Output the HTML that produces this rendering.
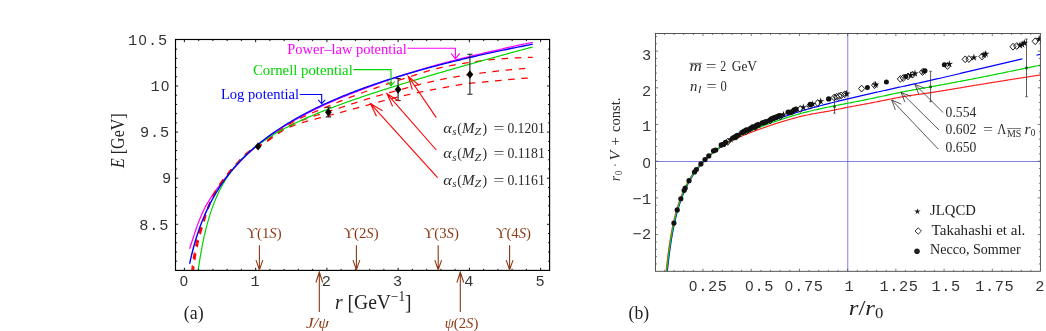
<!DOCTYPE html>
<html><head><meta charset="utf-8"><title>Figure</title>
<style>html,body{margin:0;padding:0;background:#fff;}svg{display:block;}</style></head><body>
<svg width="1046" height="331" viewBox="0 0 1046 331">
<rect width="1046" height="331" fill="#fff"/>
<clipPath id="clipB2"><rect x="655.5" y="33.45" width="385.30000000000007" height="237.85000000000002"/></clipPath>
<g id="plotA">
<clipPath id="clipA"><rect x="175.5" y="39.5" width="374.1" height="230.89999999999998"/></clipPath>
<g clip-path="url(#clipA)" fill="none" stroke-linecap="butt" stroke-linejoin="round">
<path d="M189.60,248.75 L190.75,245.23 L191.89,241.81 L193.04,238.28 L194.19,234.67 L195.34,231.16 L196.48,227.80 L197.63,224.63 L198.78,221.60 L199.93,218.70 L201.07,215.93 L202.22,213.30 L203.37,210.81 L204.52,208.48 L205.66,206.31 L206.81,204.27 L207.96,202.33 L209.11,200.48 L210.25,198.68 L211.40,196.92 L212.55,195.17 L213.70,193.47 L214.84,191.83 L215.99,190.23 L217.14,188.66 L218.29,187.13 L219.43,185.62 L220.58,184.12 L221.73,182.63 L222.88,181.16 L224.02,179.72 L225.17,178.31 L226.32,176.93 L227.47,175.57 L228.61,174.24 L229.76,172.92 L230.91,171.61 L232.06,170.32 L233.20,169.03 L234.35,167.75 L235.50,166.46 L236.65,165.20 L237.79,163.96 L238.94,162.74 L240.09,161.54 L241.24,160.36 L242.38,159.20 L243.53,158.05 L244.68,156.93 L245.83,155.82 L246.97,154.73 L248.12,153.65 L249.27,152.59 L250.42,151.55 L251.56,150.53 L252.71,149.51 L253.86,148.52 L255.01,147.54 L256.15,146.57 L257.30,145.61 L258.45,144.67 L259.60,143.75 L260.74,142.83 L261.89,141.93 L263.04,141.04 L264.19,140.16 L265.33,139.30 L266.48,138.44 L267.63,137.60 L268.78,136.76 L269.92,135.94 L271.07,135.12 L272.22,134.32 L273.37,133.53 L274.51,132.74 L275.66,131.96 L276.81,131.19 L277.96,130.43 L279.10,129.68 L280.25,128.94 L281.40,128.20 L282.55,127.48 L283.69,126.76 L284.84,126.04 L285.99,125.34 L287.14,124.64 L288.28,123.94 L289.43,123.26 L290.58,122.58 L291.73,121.90 L292.87,121.24 L294.02,120.58 L295.17,119.92 L296.32,119.27 L297.46,118.62 L298.61,117.99 L299.76,117.35 L300.91,116.72 L302.05,116.10 L303.20,115.48 L304.35,114.87 L305.50,114.26 L306.64,113.66 L307.79,113.07 L308.94,112.48 L310.09,111.89 L311.23,111.31 L312.38,110.73 L313.53,110.16 L314.68,109.59 L315.82,109.03 L316.97,108.47 L318.12,107.92 L319.27,107.37 L320.41,106.83 L321.56,106.29 L322.71,105.75 L323.86,105.22 L325.00,104.69 L326.15,104.17 L327.30,103.65 L328.45,103.14 L329.59,102.62 L330.74,102.12 L331.89,101.61 L333.04,101.11 L334.18,100.61 L335.33,100.12 L336.48,99.63 L337.63,99.14 L338.77,98.66 L339.92,98.18 L341.07,97.71 L342.22,97.23 L343.36,96.76 L344.51,96.30 L345.66,95.83 L346.81,95.37 L347.95,94.92 L349.10,94.46 L350.25,94.01 L351.40,93.56 L352.54,93.12 L353.69,92.67 L354.84,92.23 L355.99,91.80 L357.13,91.36 L358.28,90.93 L359.43,90.50 L360.58,90.08 L361.72,89.65 L362.87,89.23 L364.02,88.80 L365.17,88.38 L366.31,87.95 L367.46,87.53 L368.61,87.11 L369.76,86.69 L370.90,86.27 L372.05,85.85 L373.20,85.43 L374.35,85.02 L375.49,84.60 L376.64,84.19 L377.79,83.77 L378.94,83.36 L380.08,82.95 L381.23,82.54 L382.38,82.14 L383.53,81.73 L384.67,81.33 L385.82,80.93 L386.97,80.53 L388.12,80.13 L389.26,79.73 L390.41,79.34 L391.56,78.95 L392.71,78.56 L393.85,78.17 L395.00,77.79 L396.15,77.41 L397.30,77.03 L398.44,76.65 L399.59,76.28 L400.74,75.91 L401.89,75.54 L403.03,75.17 L404.18,74.80 L405.33,74.43 L406.48,74.07 L407.62,73.70 L408.77,73.34 L409.92,72.98 L411.07,72.62 L412.21,72.26 L413.36,71.90 L414.51,71.55 L415.66,71.19 L416.80,70.84 L417.95,70.49 L419.10,70.14 L420.25,69.79 L421.39,69.45 L422.54,69.10 L423.69,68.76 L424.84,68.42 L425.98,68.08 L427.13,67.74 L428.28,67.41 L429.43,67.08 L430.57,66.74 L431.72,66.42 L432.87,66.09 L434.02,65.76 L435.16,65.44 L436.31,65.12 L437.46,64.80 L438.61,64.49 L439.75,64.17 L440.90,63.86 L442.05,63.55 L443.20,63.24 L444.34,62.93 L445.49,62.63 L446.64,62.33 L447.79,62.03 L448.93,61.73 L450.08,61.43 L451.23,61.13 L452.38,60.84 L453.52,60.54 L454.67,60.25 L455.82,59.96 L456.97,59.67 L458.11,59.38 L459.26,59.09 L460.41,58.80 L461.56,58.52 L462.70,58.23 L463.85,57.95 L465.00,57.66 L466.15,57.38 L467.29,57.10 L468.44,56.82 L469.59,56.54 L470.74,56.26 L471.88,55.98 L473.03,55.70 L474.18,55.42 L475.33,55.14 L476.47,54.87 L477.62,54.59 L478.77,54.32 L479.92,54.04 L481.06,53.77 L482.21,53.50 L483.36,53.23 L484.51,52.96 L485.65,52.69 L486.80,52.42 L487.95,52.15 L489.10,51.88 L490.24,51.62 L491.39,51.35 L492.54,51.08 L493.69,50.82 L494.83,50.56 L495.98,50.29 L497.13,50.03 L498.28,49.77 L499.42,49.51 L500.57,49.25 L501.72,49.00 L502.87,48.74 L504.01,48.48 L505.16,48.23 L506.31,47.97 L507.46,47.72 L508.60,47.46 L509.75,47.21 L510.90,46.96 L512.05,46.71 L513.19,46.46 L514.34,46.21 L515.49,45.96 L516.64,45.71 L517.78,45.46 L518.93,45.21 L520.08,44.97 L521.23,44.72 L522.37,44.47 L523.52,44.23 L524.67,43.99 L525.82,43.74 L526.96,43.50 L528.11,43.26 L529.26,43.02 L530.41,42.78 L531.55,42.54 L532.70,42.30" stroke="#ff00ff" stroke-width="1.25"/>
<path d="M191.64,272.00 L192.32,265.70 L193.01,260.61 L193.69,256.21 L194.37,252.24 L195.05,248.60 L195.73,245.26 L196.41,242.21 L197.10,239.42 L197.78,236.87 L198.47,234.51 L199.18,232.30 L199.90,230.18 L200.61,228.09 L201.32,225.99 L202.04,223.83 L202.75,221.65 L203.46,219.49 L204.18,217.34 L204.89,215.24 L205.60,213.18 L206.32,211.20 L207.03,209.29 L207.74,207.43 L208.44,205.62 L209.15,203.87 L209.86,202.18 L210.56,200.57 L211.27,199.04 L211.97,197.56 L212.68,196.11 L213.38,194.72 L214.08,193.38 L214.78,192.09 L215.48,190.85 L216.18,189.66 L216.88,188.53 L217.58,187.43 L218.28,186.36 L218.97,185.33 L219.67,184.33 L220.37,183.35 L221.06,182.39 L221.76,181.45 L222.45,180.52 L223.15,179.60 L223.84,178.69 L224.54,177.79 L225.23,176.90 L225.93,176.02 L226.62,175.15 L227.31,174.29 L227.99,173.44 L228.67,172.60 L229.35,171.78 L230.04,170.96 L230.72,170.15 L231.40,169.36 L232.08,168.57 L232.76,167.80 L233.44,167.04 L234.13,166.28 L234.81,165.54 L235.49,164.81 L236.17,164.08 L236.85,163.35 L237.53,162.61 L238.22,161.88 L238.90,161.15 L239.58,160.42 L240.26,159.69 L240.94,158.97 L241.62,158.26 L242.31,157.56 L242.99,156.87 L243.67,156.19 L244.35,155.53 L245.03,154.88 L245.71,154.25 L246.40,153.64 L247.08,153.05 L247.76,152.47 L248.44,151.93 L249.12,151.40 L249.80,150.90 L250.49,150.43 L251.17,149.99 L251.85,149.59 L252.53,149.22 L253.21,148.88 L253.89,148.56 L254.58,148.25 L255.26,147.94 L255.94,147.64 L256.62,147.32 L257.30,146.98 L257.98,146.61 L258.67,146.22 L259.35,145.81 L260.03,145.40 L260.71,144.97 L261.39,144.53 L262.07,144.08 L262.76,143.62 L263.44,143.15 L264.12,142.67 L264.80,142.18 L265.48,141.68 L266.16,141.18 L266.85,140.67 L267.53,140.16 L268.21,139.64 L268.89,139.11 L269.57,138.58 L270.25,138.05 L270.94,137.52 L271.62,136.98 L272.30,136.44 L272.98,135.89 L273.66,135.35 L274.34,134.81 L275.03,134.27 L275.71,133.72 L276.39,133.18 L277.07,132.65 L277.75,132.11 L278.43,131.58 L279.12,131.05 L279.80,130.53 L280.48,130.01 L281.16,129.49 L281.84,128.99 L282.52,128.49 L283.21,127.99 L283.89,127.51 L284.57,127.03 L285.25,126.56 L285.93,126.10 L286.61,125.66 L287.30,125.22 L287.98,124.79 L288.66,124.38 L289.34,123.98 L290.02,123.59 L290.70,123.21 L291.39,122.83 L292.07,122.46 L292.75,122.09 L293.43,121.73 L294.11,121.37 L294.79,121.02 L295.48,120.67 L296.16,120.32 L296.84,119.98 L297.52,119.64 L298.20,119.30 L298.88,118.97 L299.57,118.64 L300.25,118.31 L300.93,117.98 L301.61,117.66 L302.29,117.35 L302.97,117.03 L303.66,116.72 L304.34,116.41 L305.02,116.10 L305.70,115.79 L306.38,115.49 L307.06,115.18 L307.75,114.88 L308.43,114.59 L309.11,114.29 L309.79,113.99 L310.47,113.70 L311.15,113.41 L311.84,113.12 L312.52,112.83 L313.20,112.54 L313.88,112.25 L314.56,111.96 L315.24,111.67 L315.93,111.39 L316.61,111.10 L317.29,110.82 L317.97,110.53 L318.65,110.25 L319.33,109.96 L320.02,109.68 L320.70,109.39 L321.38,109.11 L322.06,108.82 L322.74,108.54 L323.42,108.25 L324.11,107.96 L324.79,107.67 L325.47,107.38 L326.15,107.09 L326.83,106.80 L327.52,106.51 L328.20,106.22 L328.88,105.92 L329.56,105.63 L330.24,105.34 L330.92,105.05 L331.61,104.76 L332.29,104.47 L332.97,104.18 L333.65,103.90 L334.33,103.61 L335.01,103.33 L335.70,103.05 L336.38,102.77 L337.06,102.49 L337.74,102.21 L338.42,101.93 L339.10,101.66 L339.79,101.39 L340.47,101.11 L341.15,100.84 L341.83,100.57 L342.51,100.30 L343.19,100.03 L343.88,99.76 L344.56,99.50 L345.24,99.23 L345.92,98.96 L346.60,98.69 L347.28,98.43 L347.97,98.16 L348.65,97.90 L349.33,97.64 L350.01,97.37 L350.69,97.11 L351.37,96.85 L352.06,96.59 L352.74,96.33 L353.42,96.07 L354.10,95.81 L354.78,95.56 L355.46,95.30 L356.15,95.04 L356.83,94.79 L357.51,94.53 L358.19,94.28 L358.87,94.02 L359.55,93.77 L360.24,93.52 L360.92,93.27 L361.60,93.02 L362.28,92.77 L362.96,92.52 L363.64,92.27 L364.33,92.02 L365.01,91.77 L365.69,91.53 L366.37,91.28 L367.05,91.04 L367.73,90.79 L368.42,90.55 L369.10,90.31 L369.78,90.07 L370.46,89.83 L371.14,89.58 L371.82,89.34 L372.51,89.10 L373.19,88.86 L373.87,88.63 L374.55,88.39 L375.23,88.15 L375.91,87.91 L376.60,87.67 L377.28,87.44 L377.96,87.20 L378.64,86.97 L379.32,86.73 L380.00,86.50 L380.69,86.26 L381.37,86.03 L382.05,85.80 L382.73,85.57 L383.41,85.33 L384.09,85.10 L384.78,84.87 L385.46,84.64 L386.14,84.41 L386.82,84.18 L387.50,83.95 L388.18,83.73 L388.87,83.50 L389.55,83.27 L390.23,83.04 L390.91,82.82 L391.59,82.59 L392.27,82.37 L392.96,82.14 L393.64,81.92 L394.32,81.69 L395.00,81.47 L395.68,81.25 L396.36,81.02 L397.05,80.80 L397.73,80.58 L398.41,80.36 L399.09,80.14 L399.77,79.92 L400.45,79.70 L401.14,79.48 L401.82,79.26 L402.50,79.04 L403.18,78.83 L403.86,78.61 L404.54,78.39 L405.23,78.18 L405.91,77.96 L406.59,77.74 L407.27,77.53 L407.95,77.31 L408.63,77.10 L409.32,76.88 L410.00,76.67 L410.68,76.45 L411.36,76.23 L412.04,76.01 L412.72,75.79 L413.41,75.58 L414.09,75.36 L414.77,75.13 L415.45,74.91 L416.13,74.69 L416.81,74.47 L417.50,74.25 L418.18,74.03 L418.86,73.82 L419.54,73.60 L420.22,73.38 L420.90,73.16 L421.59,72.95 L422.27,72.73 L422.95,72.52 L423.63,72.30 L424.31,72.09 L424.99,71.88 L425.68,71.67 L426.36,71.46 L427.04,71.26 L427.72,71.05 L428.40,70.85 L429.09,70.65 L429.77,70.45 L430.45,70.26 L431.13,70.06 L431.81,69.87 L432.49,69.68 L433.18,69.50 L433.86,69.31 L434.54,69.13 L435.22,68.95 L435.90,68.78 L436.58,68.61 L437.27,68.44 L437.95,68.28 L438.63,68.11 L439.31,67.96 L439.99,67.80 L440.67,67.65 L441.36,67.50 L442.04,67.35 L442.72,67.20 L443.40,67.06 L444.08,66.91 L444.76,66.77 L445.45,66.63 L446.13,66.49 L446.81,66.35 L447.49,66.21 L448.17,66.08 L448.85,65.94 L449.54,65.81 L450.22,65.68 L450.90,65.55 L451.58,65.42 L452.26,65.29 L452.94,65.17 L453.63,65.04 L454.31,64.92 L454.99,64.79 L455.67,64.67 L456.35,64.55 L457.03,64.43 L457.72,64.32 L458.40,64.20 L459.08,64.09 L459.76,63.97 L460.44,63.86 L461.12,63.75 L461.81,63.64 L462.49,63.53 L463.17,63.42 L463.85,63.31 L464.53,63.21 L465.21,63.10 L465.90,63.00 L466.58,62.90 L467.26,62.80 L467.94,62.70 L468.62,62.60 L469.30,62.50 L469.99,62.40 L470.67,62.31 L471.35,62.21 L472.03,62.11 L472.71,62.02 L473.39,61.92 L474.08,61.83 L474.76,61.73 L475.44,61.64 L476.12,61.54 L476.80,61.45 L477.48,61.36 L478.17,61.26 L478.85,61.17 L479.53,61.08 L480.21,60.99 L480.89,60.90 L481.57,60.81 L482.26,60.72 L482.94,60.64 L483.62,60.55 L484.30,60.47 L484.98,60.38 L485.66,60.30 L486.35,60.22 L487.03,60.14 L487.71,60.06 L488.39,59.98 L489.07,59.90 L489.75,59.83 L490.44,59.76 L491.12,59.68 L491.80,59.61 L492.48,59.54 L493.16,59.48 L493.84,59.41 L494.53,59.35 L495.21,59.28 L495.89,59.22 L496.57,59.16 L497.25,59.11 L497.93,59.05 L498.62,59.00 L499.30,58.95 L499.98,58.90 L500.66,58.85 L501.34,58.81 L502.02,58.76 L502.71,58.71 L503.39,58.67 L504.07,58.62 L504.75,58.57 L505.43,58.53 L506.11,58.48 L506.80,58.44 L507.48,58.40 L508.16,58.35 L508.84,58.31 L509.52,58.26 L510.20,58.22 L510.89,58.18 L511.57,58.14 L512.25,58.10 L512.93,58.06 L513.61,58.02 L514.29,57.98 L514.98,57.94 L515.66,57.91 L516.34,57.87 L517.02,57.83 L517.70,57.80 L518.38,57.77 L519.07,57.73 L519.75,57.70 L520.43,57.67 L521.11,57.64 L521.79,57.61 L522.47,57.58 L523.16,57.55 L523.84,57.53 L524.52,57.50 L525.20,57.48 L525.88,57.46 L526.56,57.44 L527.25,57.41 L527.93,57.40 L528.61,57.38 L529.29,57.36 L529.97,57.35 L530.65,57.33 L531.34,57.32 L532.02,57.31 L532.70,57.30" stroke="#ff0000" stroke-width="1.25" stroke-dasharray="6.6 6.6" stroke-dashoffset="0"/>
<path d="M192.54,272.00 L193.22,265.75 L193.89,260.70 L194.57,256.33 L195.24,252.38 L195.92,248.76 L196.59,245.45 L197.27,242.41 L197.94,239.62 L198.62,237.08 L199.30,234.73 L199.97,232.53 L200.65,230.42 L201.32,228.35 L202.00,226.27 L202.67,224.13 L203.35,221.98 L204.02,219.83 L204.70,217.70 L205.37,215.61 L206.05,213.56 L206.72,211.58 L207.40,209.68 L208.07,207.83 L208.75,206.02 L209.42,204.27 L210.10,202.59 L210.78,200.98 L211.45,199.44 L212.13,197.96 L212.80,196.52 L213.48,195.12 L214.15,193.78 L214.83,192.48 L215.50,191.24 L216.18,190.05 L216.85,188.91 L217.53,187.80 L218.20,186.74 L218.88,185.71 L219.55,184.70 L220.23,183.72 L220.90,182.77 L221.58,181.83 L222.25,180.90 L222.93,179.99 L223.61,179.08 L224.28,178.18 L224.96,177.30 L225.63,176.42 L226.31,175.56 L226.98,174.70 L227.66,173.85 L228.33,173.02 L229.01,172.20 L229.68,171.38 L230.36,170.58 L231.03,169.78 L231.71,169.00 L232.38,168.23 L233.06,167.47 L233.73,166.71 L234.41,165.97 L235.08,165.24 L235.76,164.52 L236.44,163.79 L237.11,163.06 L237.79,162.33 L238.46,161.60 L239.14,160.87 L239.81,160.14 L240.49,159.42 L241.16,158.71 L241.84,158.00 L242.51,157.30 L243.19,156.62 L243.86,155.95 L244.54,155.29 L245.21,154.65 L245.89,154.03 L246.56,153.43 L247.24,152.85 L247.91,152.29 L248.59,151.76 L249.27,151.26 L249.94,150.78 L250.62,150.33 L251.29,149.92 L251.97,149.54 L252.64,149.20 L253.32,148.89 L253.99,148.59 L254.67,148.30 L255.34,148.02 L256.02,147.74 L256.69,147.44 L257.37,147.12 L258.04,146.78 L258.72,146.41 L259.39,146.03 L260.07,145.64 L260.74,145.24 L261.42,144.83 L262.10,144.40 L262.77,143.97 L263.45,143.53 L264.12,143.08 L264.80,142.62 L265.47,142.15 L266.15,141.68 L266.82,141.20 L267.50,140.72 L268.17,140.23 L268.85,139.73 L269.52,139.23 L270.20,138.73 L270.87,138.23 L271.55,137.72 L272.22,137.21 L272.90,136.71 L273.57,136.20 L274.25,135.69 L274.93,135.18 L275.60,134.68 L276.28,134.18 L276.95,133.68 L277.63,133.18 L278.30,132.69 L278.98,132.20 L279.65,131.71 L280.33,131.24 L281.00,130.77 L281.68,130.30 L282.35,129.85 L283.03,129.40 L283.70,128.96 L284.38,128.53 L285.05,128.11 L285.73,127.70 L286.40,127.30 L287.08,126.92 L287.76,126.54 L288.43,126.18 L289.11,125.84 L289.78,125.50 L290.46,125.18 L291.13,124.87 L291.81,124.56 L292.48,124.25 L293.16,123.95 L293.83,123.65 L294.51,123.36 L295.18,123.07 L295.86,122.78 L296.53,122.50 L297.21,122.22 L297.88,121.95 L298.56,121.68 L299.23,121.41 L299.91,121.14 L300.59,120.88 L301.26,120.62 L301.94,120.36 L302.61,120.11 L303.29,119.86 L303.96,119.61 L304.64,119.37 L305.31,119.12 L305.99,118.88 L306.66,118.64 L307.34,118.41 L308.01,118.17 L308.69,117.94 L309.36,117.71 L310.04,117.48 L310.71,117.25 L311.39,117.02 L312.06,116.80 L312.74,116.58 L313.42,116.35 L314.09,116.13 L314.77,115.91 L315.44,115.69 L316.12,115.47 L316.79,115.25 L317.47,115.03 L318.14,114.81 L318.82,114.59 L319.49,114.38 L320.17,114.16 L320.84,113.94 L321.52,113.72 L322.19,113.50 L322.87,113.29 L323.54,113.07 L324.22,112.85 L324.89,112.63 L325.57,112.40 L326.25,112.18 L326.92,111.96 L327.60,111.73 L328.27,111.51 L328.95,111.29 L329.62,111.07 L330.30,110.85 L330.97,110.63 L331.65,110.42 L332.32,110.20 L333.00,109.99 L333.67,109.78 L334.35,109.57 L335.02,109.36 L335.70,109.15 L336.37,108.94 L337.05,108.73 L337.72,108.52 L338.40,108.31 L339.08,108.09 L339.75,107.88 L340.43,107.66 L341.10,107.45 L341.78,107.23 L342.45,107.01 L343.13,106.80 L343.80,106.58 L344.48,106.36 L345.15,106.14 L345.83,105.92 L346.50,105.70 L347.18,105.48 L347.85,105.26 L348.53,105.04 L349.20,104.82 L349.88,104.60 L350.55,104.37 L351.23,104.15 L351.91,103.93 L352.58,103.71 L353.26,103.49 L353.93,103.27 L354.61,103.05 L355.28,102.83 L355.96,102.61 L356.63,102.39 L357.31,102.17 L357.98,101.95 L358.66,101.73 L359.33,101.52 L360.01,101.30 L360.68,101.08 L361.36,100.87 L362.03,100.65 L362.71,100.44 L363.38,100.23 L364.06,100.02 L364.74,99.80 L365.41,99.59 L366.09,99.39 L366.76,99.18 L367.44,98.97 L368.11,98.77 L368.79,98.56 L369.46,98.36 L370.14,98.15 L370.81,97.95 L371.49,97.75 L372.16,97.55 L372.84,97.34 L373.51,97.14 L374.19,96.94 L374.86,96.74 L375.54,96.55 L376.21,96.35 L376.89,96.15 L377.57,95.95 L378.24,95.76 L378.92,95.56 L379.59,95.37 L380.27,95.18 L380.94,94.98 L381.62,94.79 L382.29,94.60 L382.97,94.41 L383.64,94.22 L384.32,94.04 L384.99,93.85 L385.67,93.66 L386.34,93.48 L387.02,93.29 L387.69,93.11 L388.37,92.93 L389.04,92.74 L389.72,92.56 L390.40,92.38 L391.07,92.19 L391.75,92.01 L392.42,91.82 L393.10,91.64 L393.77,91.45 L394.45,91.27 L395.12,91.08 L395.80,90.90 L396.47,90.71 L397.15,90.53 L397.82,90.34 L398.50,90.16 L399.17,89.97 L399.85,89.79 L400.52,89.60 L401.20,89.42 L401.87,89.23 L402.55,89.05 L403.23,88.87 L403.90,88.68 L404.58,88.50 L405.25,88.31 L405.93,88.13 L406.60,87.95 L407.28,87.77 L407.95,87.58 L408.63,87.40 L409.30,87.22 L409.98,87.04 L410.65,86.86 L411.33,86.68 L412.00,86.50 L412.68,86.32 L413.35,86.14 L414.03,85.96 L414.70,85.79 L415.38,85.61 L416.06,85.43 L416.73,85.26 L417.41,85.08 L418.08,84.91 L418.76,84.73 L419.43,84.56 L420.11,84.39 L420.78,84.22 L421.46,84.05 L422.13,83.88 L422.81,83.71 L423.48,83.54 L424.16,83.37 L424.83,83.20 L425.51,83.04 L426.18,82.87 L426.86,82.71 L427.54,82.55 L428.21,82.38 L428.89,82.22 L429.56,82.06 L430.24,81.90 L430.91,81.75 L431.59,81.59 L432.26,81.43 L432.94,81.28 L433.61,81.13 L434.29,80.97 L434.96,80.82 L435.64,80.67 L436.31,80.53 L436.99,80.38 L437.66,80.23 L438.34,80.09 L439.01,79.94 L439.69,79.80 L440.37,79.66 L441.04,79.52 L441.72,79.38 L442.39,79.25 L443.07,79.11 L443.74,78.98 L444.42,78.85 L445.09,78.72 L445.77,78.59 L446.44,78.46 L447.12,78.33 L447.79,78.21 L448.47,78.09 L449.14,77.96 L449.82,77.84 L450.49,77.72 L451.17,77.60 L451.84,77.48 L452.52,77.36 L453.20,77.24 L453.87,77.13 L454.55,77.01 L455.22,76.90 L455.90,76.78 L456.57,76.67 L457.25,76.56 L457.92,76.44 L458.60,76.33 L459.27,76.22 L459.95,76.11 L460.62,76.01 L461.30,75.90 L461.97,75.79 L462.65,75.68 L463.32,75.58 L464.00,75.47 L464.67,75.37 L465.35,75.27 L466.03,75.16 L466.70,75.06 L467.38,74.96 L468.05,74.86 L468.73,74.76 L469.40,74.66 L470.08,74.56 L470.75,74.47 L471.43,74.37 L472.10,74.27 L472.78,74.18 L473.45,74.08 L474.13,73.99 L474.80,73.90 L475.48,73.80 L476.15,73.71 L476.83,73.62 L477.50,73.53 L478.18,73.44 L478.86,73.35 L479.53,73.26 L480.21,73.18 L480.88,73.09 L481.56,73.00 L482.23,72.92 L482.91,72.83 L483.58,72.75 L484.26,72.66 L484.93,72.58 L485.61,72.50 L486.28,72.41 L486.96,72.33 L487.63,72.25 L488.31,72.17 L488.98,72.09 L489.66,72.01 L490.33,71.93 L491.01,71.85 L491.69,71.77 L492.36,71.69 L493.04,71.61 L493.71,71.53 L494.39,71.45 L495.06,71.38 L495.74,71.30 L496.41,71.22 L497.09,71.15 L497.76,71.07 L498.44,70.99 L499.11,70.92 L499.79,70.84 L500.46,70.77 L501.14,70.70 L501.81,70.62 L502.49,70.55 L503.16,70.48 L503.84,70.41 L504.52,70.33 L505.19,70.26 L505.87,70.19 L506.54,70.12 L507.22,70.05 L507.89,69.99 L508.57,69.92 L509.24,69.85 L509.92,69.78 L510.59,69.72 L511.27,69.65 L511.94,69.59 L512.62,69.52 L513.29,69.46 L513.97,69.40 L514.64,69.33 L515.32,69.27 L515.99,69.21 L516.67,69.15 L517.35,69.09 L518.02,69.03 L518.70,68.98 L519.37,68.92 L520.05,68.86 L520.72,68.81 L521.40,68.75 L522.07,68.70 L522.75,68.64 L523.42,68.59 L524.10,68.54 L524.77,68.49 L525.45,68.44 L526.12,68.39 L526.80,68.34 L527.47,68.30 L528.15,68.25 L528.82,68.21 L529.50,68.17" stroke="#ff0000" stroke-width="1.25" stroke-dasharray="6.6 6.6" stroke-dashoffset="0.6"/>
<path d="M193.44,272.00 L194.12,265.70 L194.81,260.61 L195.49,256.21 L196.17,252.24 L196.85,248.60 L197.53,245.26 L198.21,242.21 L198.90,239.42 L199.58,236.87 L200.25,234.51 L200.90,232.30 L201.55,230.18 L202.20,228.09 L202.85,225.99 L203.50,223.83 L204.15,221.65 L204.80,219.49 L205.45,217.34 L206.10,215.24 L206.75,213.18 L207.40,211.20 L208.05,209.29 L208.71,207.43 L209.36,205.62 L210.02,203.87 L210.67,202.18 L211.33,200.57 L211.99,199.04 L212.65,197.56 L213.31,196.11 L213.97,194.72 L214.63,193.38 L215.29,192.09 L215.96,190.85 L216.62,189.66 L217.29,188.53 L217.95,187.43 L218.62,186.36 L219.28,185.33 L219.95,184.33 L220.62,183.35 L221.28,182.39 L221.95,181.45 L222.62,180.52 L223.29,179.60 L223.96,178.69 L224.62,177.79 L225.29,176.90 L225.96,176.02 L226.63,175.15 L227.31,174.29 L227.99,173.44 L228.67,172.60 L229.35,171.78 L230.04,170.96 L230.72,170.15 L231.40,169.36 L232.08,168.57 L232.76,167.80 L233.44,167.04 L234.13,166.28 L234.81,165.54 L235.49,164.81 L236.17,164.08 L236.85,163.34 L237.53,162.60 L238.22,161.85 L238.90,161.11 L239.58,160.37 L240.26,159.63 L240.94,158.90 L241.62,158.18 L242.31,157.47 L242.99,156.77 L243.67,156.08 L244.35,155.41 L245.03,154.76 L245.71,154.12 L246.40,153.51 L247.08,152.92 L247.76,152.36 L248.44,151.82 L249.12,151.32 L249.80,150.84 L250.49,150.40 L251.17,149.99 L251.85,149.63 L252.53,149.29 L253.21,148.99 L253.89,148.71 L254.58,148.44 L255.26,148.17 L255.94,147.90 L256.62,147.63 L257.30,147.33 L257.98,147.01 L258.67,146.66 L259.35,146.30 L260.03,145.93 L260.71,145.55 L261.39,145.15 L262.07,144.75 L262.76,144.33 L263.44,143.90 L264.12,143.47 L264.80,143.03 L265.48,142.58 L266.16,142.12 L266.85,141.66 L267.53,141.19 L268.21,140.71 L268.89,140.23 L269.57,139.75 L270.25,139.27 L270.94,138.78 L271.62,138.29 L272.30,137.80 L272.98,137.31 L273.66,136.82 L274.34,136.34 L275.03,135.85 L275.71,135.37 L276.39,134.88 L277.07,134.41 L277.75,133.93 L278.43,133.46 L279.12,133.00 L279.80,132.54 L280.48,132.09 L281.16,131.65 L281.84,131.22 L282.52,130.79 L283.21,130.38 L283.89,129.97 L284.57,129.58 L285.25,129.19 L285.93,128.82 L286.61,128.47 L287.30,128.12 L287.98,127.79 L288.66,127.48 L289.34,127.17 L290.02,126.89 L290.70,126.62 L291.39,126.35 L292.07,126.08 L292.75,125.82 L293.43,125.57 L294.11,125.32 L294.79,125.07 L295.48,124.83 L296.16,124.59 L296.84,124.35 L297.52,124.12 L298.20,123.89 L298.88,123.67 L299.57,123.45 L300.25,123.23 L300.93,123.01 L301.61,122.80 L302.29,122.59 L302.97,122.39 L303.66,122.18 L304.34,121.98 L305.02,121.78 L305.70,121.59 L306.38,121.39 L307.06,121.20 L307.75,121.01 L308.43,120.82 L309.11,120.64 L309.79,120.45 L310.47,120.27 L311.15,120.09 L311.84,119.91 L312.52,119.73 L313.20,119.55 L313.88,119.37 L314.56,119.19 L315.24,119.02 L315.93,118.84 L316.61,118.67 L317.29,118.49 L317.97,118.32 L318.65,118.14 L319.33,117.97 L320.02,117.79 L320.70,117.62 L321.38,117.44 L322.06,117.27 L322.74,117.09 L323.42,116.92 L324.11,116.74 L324.79,116.56 L325.47,116.38 L326.15,116.20 L326.83,116.02 L327.52,115.83 L328.20,115.65 L328.88,115.46 L329.56,115.28 L330.24,115.10 L330.92,114.92 L331.61,114.75 L332.29,114.57 L332.97,114.40 L333.65,114.23 L334.33,114.05 L335.01,113.88 L335.70,113.71 L336.38,113.54 L337.06,113.36 L337.74,113.19 L338.42,113.01 L339.10,112.84 L339.79,112.66 L340.47,112.48 L341.15,112.30 L341.83,112.11 L342.51,111.93 L343.19,111.75 L343.88,111.57 L344.56,111.38 L345.24,111.20 L345.92,111.02 L346.60,110.83 L347.28,110.65 L347.97,110.46 L348.65,110.28 L349.33,110.09 L350.01,109.90 L350.69,109.72 L351.37,109.53 L352.06,109.34 L352.74,109.16 L353.42,108.97 L354.10,108.78 L354.78,108.59 L355.46,108.41 L356.15,108.22 L356.83,108.03 L357.51,107.84 L358.19,107.66 L358.87,107.47 L359.55,107.28 L360.24,107.09 L360.92,106.91 L361.60,106.72 L362.28,106.53 L362.96,106.35 L363.64,106.16 L364.33,105.97 L365.01,105.79 L365.69,105.60 L366.37,105.42 L367.05,105.23 L367.73,105.05 L368.42,104.86 L369.10,104.68 L369.78,104.49 L370.46,104.31 L371.14,104.13 L371.82,103.94 L372.51,103.76 L373.19,103.57 L373.87,103.39 L374.55,103.20 L375.23,103.02 L375.91,102.83 L376.60,102.64 L377.28,102.45 L377.96,102.27 L378.64,102.08 L379.32,101.89 L380.00,101.70 L380.69,101.52 L381.37,101.33 L382.05,101.14 L382.73,100.96 L383.41,100.77 L384.09,100.58 L384.78,100.40 L385.46,100.21 L386.14,100.03 L386.82,99.84 L387.50,99.66 L388.18,99.48 L388.87,99.30 L389.55,99.12 L390.23,98.94 L390.91,98.76 L391.59,98.58 L392.27,98.40 L392.96,98.23 L393.64,98.05 L394.32,97.88 L395.00,97.71 L395.68,97.54 L396.36,97.37 L397.05,97.20 L397.73,97.04 L398.41,96.87 L399.09,96.71 L399.77,96.55 L400.45,96.39 L401.14,96.24 L401.82,96.08 L402.50,95.92 L403.18,95.77 L403.86,95.61 L404.54,95.46 L405.23,95.31 L405.91,95.15 L406.59,95.00 L407.27,94.85 L407.95,94.70 L408.63,94.55 L409.32,94.40 L410.00,94.25 L410.68,94.11 L411.36,93.96 L412.04,93.81 L412.72,93.67 L413.41,93.52 L414.09,93.38 L414.77,93.24 L415.45,93.09 L416.13,92.95 L416.81,92.81 L417.50,92.67 L418.18,92.53 L418.86,92.39 L419.54,92.25 L420.22,92.11 L420.90,91.97 L421.59,91.83 L422.27,91.69 L422.95,91.56 L423.63,91.42 L424.31,91.29 L424.99,91.15 L425.68,91.02 L426.36,90.88 L427.04,90.75 L427.72,90.62 L428.40,90.48 L429.09,90.35 L429.77,90.22 L430.45,90.09 L431.13,89.96 L431.81,89.83 L432.49,89.70 L433.18,89.57 L433.86,89.44 L434.54,89.31 L435.22,89.18 L435.90,89.06 L436.58,88.93 L437.27,88.80 L437.95,88.68 L438.63,88.55 L439.31,88.43 L439.99,88.30 L440.67,88.18 L441.36,88.05 L442.04,87.93 L442.72,87.80 L443.40,87.67 L444.08,87.55 L444.76,87.42 L445.45,87.29 L446.13,87.17 L446.81,87.04 L447.49,86.92 L448.17,86.79 L448.85,86.67 L449.54,86.54 L450.22,86.42 L450.90,86.29 L451.58,86.17 L452.26,86.05 L452.94,85.93 L453.63,85.80 L454.31,85.68 L454.99,85.56 L455.67,85.45 L456.35,85.33 L457.03,85.21 L457.72,85.10 L458.40,84.98 L459.08,84.87 L459.76,84.76 L460.44,84.65 L461.12,84.54 L461.81,84.44 L462.49,84.33 L463.17,84.23 L463.85,84.13 L464.53,84.03 L465.21,83.93 L465.90,83.83 L466.58,83.74 L467.26,83.65 L467.94,83.56 L468.62,83.47 L469.30,83.38 L469.99,83.30 L470.67,83.22 L471.35,83.14 L472.03,83.07 L472.71,82.99 L473.39,82.92 L474.08,82.85 L474.76,82.78 L475.44,82.71 L476.12,82.64 L476.80,82.57 L477.48,82.51 L478.17,82.44 L478.85,82.38 L479.53,82.32 L480.21,82.26 L480.89,82.19 L481.57,82.13 L482.26,82.07 L482.94,82.01 L483.62,81.95 L484.30,81.89 L484.98,81.83 L485.66,81.77 L486.35,81.71 L487.03,81.65 L487.71,81.59 L488.39,81.53 L489.07,81.47 L489.75,81.40 L490.44,81.34 L491.12,81.28 L491.80,81.21 L492.48,81.15 L493.16,81.09 L493.84,81.02 L494.53,80.96 L495.21,80.89 L495.89,80.83 L496.57,80.76 L497.25,80.70 L497.93,80.64 L498.62,80.57 L499.30,80.51 L499.98,80.44 L500.66,80.38 L501.34,80.31 L502.02,80.25 L502.71,80.19 L503.39,80.12 L504.07,80.06 L504.75,79.99 L505.43,79.93 L506.11,79.87 L506.80,79.80 L507.48,79.74 L508.16,79.68 L508.84,79.61 L509.52,79.55 L510.20,79.49 L510.89,79.43 L511.57,79.36 L512.25,79.30 L512.93,79.24 L513.61,79.18 L514.29,79.12 L514.98,79.06 L515.66,79.00 L516.34,78.94 L517.02,78.88 L517.70,78.82 L518.38,78.77 L519.07,78.71 L519.75,78.65 L520.43,78.59 L521.11,78.54 L521.79,78.48 L522.47,78.43 L523.16,78.37 L523.84,78.32 L524.52,78.26 L525.20,78.21 L525.88,78.16 L526.56,78.11 L527.25,78.06 L527.93,78.01 L528.61,77.96 L529.29,77.91 L529.97,77.86 L530.65,77.82 L531.34,77.77 L532.02,77.73 L532.70,77.69" stroke="#ff0000" stroke-width="1.25" stroke-dasharray="6.6 6.6" stroke-dashoffset="1.2"/>
<path d="M197.50,275.16 L198.62,267.13 L199.74,259.83 L200.86,253.17 L201.98,247.06 L203.11,241.43 L204.23,236.22 L205.35,231.40 L206.47,226.90 L207.59,222.71 L208.71,218.79 L209.83,215.11 L210.95,211.65 L212.07,208.38 L213.19,205.30 L214.32,202.38 L215.44,199.61 L216.56,196.98 L217.68,194.48 L218.80,192.09 L219.92,189.81 L221.04,187.63 L222.16,185.55 L223.28,183.55 L224.41,181.63 L225.53,179.78 L226.65,178.00 L227.77,176.29 L228.89,174.64 L230.01,173.05 L231.13,171.51 L232.25,170.03 L233.37,168.59 L234.50,167.19 L235.62,165.84 L236.74,164.52 L237.86,163.25 L238.98,162.01 L240.10,160.80 L241.22,159.63 L242.34,158.48 L243.46,157.37 L244.58,156.28 L245.71,155.22 L246.83,154.19 L247.95,153.18 L249.07,152.19 L250.19,151.22 L251.31,150.27 L252.43,149.35 L253.55,148.44 L254.67,147.55 L255.80,146.68 L256.92,145.82 L258.04,144.98 L259.16,144.16 L260.28,143.35 L261.40,142.55 L262.52,141.77 L263.64,141.00 L264.76,140.24 L265.89,139.50 L267.01,138.77 L268.13,138.05 L269.25,137.34 L270.37,136.64 L271.49,135.95 L272.61,135.27 L273.73,134.60 L274.85,133.93 L275.97,133.28 L277.10,132.64 L278.22,132.00 L279.34,131.37 L280.46,130.75 L281.58,130.14 L282.70,129.53 L283.82,128.93 L284.94,128.34 L286.06,127.75 L287.19,127.17 L288.31,126.60 L289.43,126.03 L290.55,125.47 L291.67,124.92 L292.79,124.37 L293.91,123.82 L295.03,123.28 L296.15,122.74 L297.28,122.21 L298.40,121.69 L299.52,121.17 L300.64,120.65 L301.76,120.14 L302.88,119.63 L304.00,119.13 L305.12,118.63 L306.24,118.13 L307.36,117.64 L308.49,117.15 L309.61,116.67 L310.73,116.19 L311.85,115.71 L312.97,115.24 L314.09,114.77 L315.21,114.30 L316.33,113.84 L317.45,113.37 L318.58,112.92 L319.70,112.46 L320.82,112.01 L321.94,111.56 L323.06,111.11 L324.18,110.67 L325.30,110.23 L326.42,109.79 L327.54,109.35 L328.67,108.92 L329.79,108.48 L330.91,108.05 L332.03,107.63 L333.15,107.20 L334.27,106.78 L335.39,106.36 L336.51,105.94 L337.63,105.52 L338.75,105.11 L339.88,104.70 L341.00,104.28 L342.12,103.88 L343.24,103.47 L344.36,103.06 L345.48,102.66 L346.60,102.26 L347.72,101.86 L348.84,101.46 L349.97,101.06 L351.09,100.67 L352.21,100.27 L353.33,99.88 L354.45,99.49 L355.57,99.10 L356.69,98.72 L357.81,98.33 L358.93,97.95 L360.06,97.56 L361.18,97.18 L362.30,96.80 L363.42,96.42 L364.54,96.04 L365.66,95.67 L366.78,95.29 L367.90,94.92 L369.02,94.54 L370.14,94.17 L371.27,93.80 L372.39,93.43 L373.51,93.06 L374.63,92.70 L375.75,92.33 L376.87,91.96 L377.99,91.60 L379.11,91.24 L380.23,90.87 L381.36,90.51 L382.48,90.15 L383.60,89.79 L384.72,89.44 L385.84,89.08 L386.96,88.72 L388.08,88.37 L389.20,88.01 L390.32,87.66 L391.45,87.31 L392.57,86.95 L393.69,86.60 L394.81,86.25 L395.93,85.90 L397.05,85.55 L398.17,85.21 L399.29,84.86 L400.41,84.51 L401.53,84.17 L402.66,83.82 L403.78,83.48 L404.90,83.13 L406.02,82.79 L407.14,82.45 L408.26,82.11 L409.38,81.77 L410.50,81.43 L411.62,81.09 L412.75,80.75 L413.87,80.41 L414.99,80.07 L416.11,79.73 L417.23,79.40 L418.35,79.06 L419.47,78.73 L420.59,78.39 L421.71,78.06 L422.84,77.73 L423.96,77.39 L425.08,77.06 L426.20,76.73 L427.32,76.40 L428.44,76.07 L429.56,75.74 L430.68,75.41 L431.80,75.08 L432.92,74.75 L434.05,74.42 L435.17,74.09 L436.29,73.77 L437.41,73.44 L438.53,73.11 L439.65,72.79 L440.77,72.46 L441.89,72.14 L443.01,71.81 L444.14,71.49 L445.26,71.17 L446.38,70.84 L447.50,70.52 L448.62,70.20 L449.74,69.88 L450.86,69.56 L451.98,69.24 L453.10,68.91 L454.23,68.59 L455.35,68.28 L456.47,67.96 L457.59,67.64 L458.71,67.32 L459.83,67.00 L460.95,66.68 L462.07,66.36 L463.19,66.05 L464.31,65.73 L465.44,65.41 L466.56,65.10 L467.68,64.78 L468.80,64.47 L469.92,64.15 L471.04,63.84 L472.16,63.52 L473.28,63.21 L474.40,62.90 L475.53,62.58 L476.65,62.27 L477.77,61.96 L478.89,61.64 L480.01,61.33 L481.13,61.02 L482.25,60.71 L483.37,60.40 L484.49,60.09 L485.62,59.78 L486.74,59.47 L487.86,59.16 L488.98,58.85 L490.10,58.54 L491.22,58.23 L492.34,57.92 L493.46,57.61 L494.58,57.30 L495.70,56.99 L496.83,56.68 L497.95,56.38 L499.07,56.07 L500.19,55.76 L501.31,55.46 L502.43,55.15 L503.55,54.84 L504.67,54.54 L505.79,54.23 L506.92,53.92 L508.04,53.62 L509.16,53.31 L510.28,53.01 L511.40,52.70 L512.52,52.40 L513.64,52.09 L514.76,51.79 L515.88,51.49 L517.01,51.18 L518.13,50.88 L519.25,50.58 L520.37,50.27 L521.49,49.97 L522.61,49.67 L523.73,49.36 L524.85,49.06 L525.97,48.76 L527.09,48.46 L528.22,48.16 L529.34,47.86 L530.46,47.55 L531.58,47.25 L532.70,46.95" stroke="#00d400" stroke-width="1.2"/>
<path d="M189.60,263.75 L190.75,258.57 L191.89,253.75 L193.04,249.25 L194.19,245.03 L195.34,241.04 L196.48,237.28 L197.63,233.72 L198.78,230.32 L199.93,227.09 L201.07,224.01 L202.22,221.05 L203.37,218.22 L204.52,215.50 L205.66,212.89 L206.81,210.37 L207.96,207.93 L209.11,205.59 L210.25,203.32 L211.40,201.12 L212.55,198.99 L213.70,196.92 L214.84,194.92 L215.99,192.97 L217.14,191.07 L218.29,189.23 L219.43,187.44 L220.58,185.69 L221.73,183.98 L222.88,182.31 L224.02,180.69 L225.17,179.10 L226.32,177.55 L227.47,176.03 L228.61,174.54 L229.76,173.09 L230.91,171.67 L232.06,170.27 L233.20,168.91 L234.35,167.57 L235.50,166.25 L236.65,164.96 L237.79,163.69 L238.94,162.45 L240.09,161.23 L241.24,160.03 L242.38,158.85 L243.53,157.69 L244.68,156.55 L245.83,155.43 L246.97,154.33 L248.12,153.24 L249.27,152.17 L250.42,151.12 L251.56,150.08 L252.71,149.06 L253.86,148.05 L255.01,147.06 L256.15,146.08 L257.30,145.12 L258.45,144.17 L259.60,143.23 L260.74,142.31 L261.89,141.39 L263.04,140.49 L264.19,139.60 L265.33,138.73 L266.48,137.86 L267.63,137.00 L268.78,136.16 L269.92,135.32 L271.07,134.50 L272.22,133.68 L273.37,132.88 L274.51,132.08 L275.66,131.29 L276.81,130.51 L277.96,129.74 L279.10,128.98 L280.25,128.23 L281.40,127.48 L282.55,126.75 L283.69,126.02 L284.84,125.30 L285.99,124.58 L287.14,123.88 L288.28,123.18 L289.43,122.49 L290.58,121.80 L291.73,121.12 L292.87,120.45 L294.02,119.79 L295.17,119.13 L296.32,118.47 L297.46,117.83 L298.61,117.19 L299.76,116.55 L300.91,115.92 L302.05,115.30 L303.20,114.68 L304.35,114.07 L305.50,113.46 L306.64,112.86 L307.79,112.27 L308.94,111.68 L310.09,111.09 L311.23,110.51 L312.38,109.93 L313.53,109.36 L314.68,108.79 L315.82,108.23 L316.97,107.67 L318.12,107.12 L319.27,106.57 L320.41,106.03 L321.56,105.49 L322.71,104.95 L323.86,104.42 L325.00,103.89 L326.15,103.37 L327.30,102.85 L328.45,102.34 L329.59,101.82 L330.74,101.32 L331.89,100.81 L333.04,100.31 L334.18,99.81 L335.33,99.32 L336.48,98.83 L337.63,98.34 L338.77,97.86 L339.92,97.38 L341.07,96.91 L342.22,96.43 L343.36,95.96 L344.51,95.50 L345.66,95.03 L346.81,94.57 L347.95,94.12 L349.10,93.66 L350.25,93.21 L351.40,92.76 L352.54,92.32 L353.69,91.87 L354.84,91.43 L355.99,91.00 L357.13,90.56 L358.28,90.13 L359.43,89.70 L360.58,89.28 L361.72,88.85 L362.87,88.43 L364.02,88.01 L365.17,87.60 L366.31,87.19 L367.46,86.77 L368.61,86.37 L369.76,85.96 L370.90,85.56 L372.05,85.16 L373.20,84.76 L374.35,84.36 L375.49,83.97 L376.64,83.57 L377.79,83.18 L378.94,82.80 L380.08,82.41 L381.23,82.03 L382.38,81.65 L383.53,81.27 L384.67,80.89 L385.82,80.52 L386.97,80.14 L388.12,79.77 L389.26,79.40 L390.41,79.04 L391.56,78.67 L392.71,78.31 L393.85,77.95 L395.00,77.59 L396.15,77.23 L397.30,76.88 L398.44,76.52 L399.59,76.17 L400.74,75.82 L401.89,75.47 L403.03,75.12 L404.18,74.78 L405.33,74.44 L406.48,74.10 L407.62,73.76 L408.77,73.42 L409.92,73.08 L411.07,72.75 L412.21,72.41 L413.36,72.08 L414.51,71.75 L415.66,71.42 L416.80,71.10 L417.95,70.77 L419.10,70.45 L420.25,70.13 L421.39,69.80 L422.54,69.49 L423.69,69.17 L424.84,68.85 L425.98,68.54 L427.13,68.22 L428.28,67.91 L429.43,67.60 L430.57,67.29 L431.72,66.98 L432.87,66.68 L434.02,66.37 L435.16,66.07 L436.31,65.77 L437.46,65.47 L438.61,65.17 L439.75,64.87 L440.90,64.57 L442.05,64.27 L443.20,63.98 L444.34,63.69 L445.49,63.39 L446.64,63.10 L447.79,62.81 L448.93,62.53 L450.08,62.24 L451.23,61.95 L452.38,61.67 L453.52,61.38 L454.67,61.10 L455.82,60.82 L456.97,60.54 L458.11,60.26 L459.26,59.98 L460.41,59.71 L461.56,59.43 L462.70,59.16 L463.85,58.88 L465.00,58.61 L466.15,58.34 L467.29,58.07 L468.44,57.80 L469.59,57.53 L470.74,57.27 L471.88,57.00 L473.03,56.73 L474.18,56.47 L475.33,56.21 L476.47,55.95 L477.62,55.68 L478.77,55.42 L479.92,55.17 L481.06,54.91 L482.21,54.65 L483.36,54.39 L484.51,54.14 L485.65,53.88 L486.80,53.63 L487.95,53.38 L489.10,53.13 L490.24,52.88 L491.39,52.63 L492.54,52.38 L493.69,52.13 L494.83,51.88 L495.98,51.64 L497.13,51.39 L498.28,51.15 L499.42,50.90 L500.57,50.66 L501.72,50.42 L502.87,50.18 L504.01,49.94 L505.16,49.70 L506.31,49.46 L507.46,49.22 L508.60,48.99 L509.75,48.75 L510.90,48.52 L512.05,48.28 L513.19,48.05 L514.34,47.82 L515.49,47.58 L516.64,47.35 L517.78,47.12 L518.93,46.89 L520.08,46.66 L521.23,46.44 L522.37,46.21 L523.52,45.98 L524.67,45.76 L525.82,45.53 L526.96,45.31 L528.11,45.08 L529.26,44.86 L530.41,44.64 L531.55,44.42 L532.70,44.20" stroke="#0000ff" stroke-width="1.4"/>
</g>
<rect x="175.5" y="39.5" width="374.1" height="230.89999999999998" fill="none" stroke="#000" stroke-width="1.15"/>
<path d="M184.40,270.4v-2.7M184.40,39.5v2.7M198.65,270.4v-1.6M198.65,39.5v1.6M175.5,261.18h1.6M549.6,261.18h-1.6M212.90,270.4v-1.6M212.90,39.5v1.6M175.5,251.96h1.6M549.6,251.96h-1.6M227.15,270.4v-1.6M227.15,39.5v1.6M175.5,242.74h1.6M549.6,242.74h-1.6M241.40,270.4v-1.6M241.40,39.5v1.6M175.5,233.52h1.6M549.6,233.52h-1.6M255.65,270.4v-2.7M255.65,39.5v2.7M175.5,224.30h2.7M549.6,224.30h-2.7M269.90,270.4v-1.6M269.90,39.5v1.6M175.5,215.08h1.6M549.6,215.08h-1.6M284.15,270.4v-1.6M284.15,39.5v1.6M175.5,205.86h1.6M549.6,205.86h-1.6M298.40,270.4v-1.6M298.40,39.5v1.6M175.5,196.64h1.6M549.6,196.64h-1.6M312.65,270.4v-1.6M312.65,39.5v1.6M175.5,187.42h1.6M549.6,187.42h-1.6M326.90,270.4v-2.7M326.90,39.5v2.7M175.5,178.20h2.7M549.6,178.20h-2.7M341.15,270.4v-1.6M341.15,39.5v1.6M175.5,168.98h1.6M549.6,168.98h-1.6M355.40,270.4v-1.6M355.40,39.5v1.6M175.5,159.76h1.6M549.6,159.76h-1.6M369.65,270.4v-1.6M369.65,39.5v1.6M175.5,150.54h1.6M549.6,150.54h-1.6M383.90,270.4v-1.6M383.90,39.5v1.6M175.5,141.32h1.6M549.6,141.32h-1.6M398.15,270.4v-2.7M398.15,39.5v2.7M175.5,132.10h2.7M549.6,132.10h-2.7M412.40,270.4v-1.6M412.40,39.5v1.6M175.5,122.88h1.6M549.6,122.88h-1.6M426.65,270.4v-1.6M426.65,39.5v1.6M175.5,113.66h1.6M549.6,113.66h-1.6M440.90,270.4v-1.6M440.90,39.5v1.6M175.5,104.44h1.6M549.6,104.44h-1.6M455.15,270.4v-1.6M455.15,39.5v1.6M175.5,95.22h1.6M549.6,95.22h-1.6M469.40,270.4v-2.7M469.40,39.5v2.7M175.5,86.00h2.7M549.6,86.00h-2.7M483.65,270.4v-1.6M483.65,39.5v1.6M175.5,76.78h1.6M549.6,76.78h-1.6M497.90,270.4v-1.6M497.90,39.5v1.6M175.5,67.56h1.6M549.6,67.56h-1.6M512.15,270.4v-1.6M512.15,39.5v1.6M175.5,58.34h1.6M549.6,58.34h-1.6M526.40,270.4v-1.6M526.40,39.5v1.6M175.5,49.12h1.6M549.6,49.12h-1.6M540.65,270.4v-2.7M540.65,39.5v2.7" stroke="#000" stroke-width="0.9" fill="none"/>
<text x="183.90" y="286.40" font-family='"Liberation Mono", "DejaVu Sans Mono", monospace' font-size="15.3" text-anchor="middle" fill="#333"><tspan font-family='"Liberation Sans", "DejaVu Sans", sans-serif' font-size="14.76">0</tspan></text>
<text x="255.15" y="286.40" font-family='"Liberation Mono", "DejaVu Sans Mono", monospace' font-size="15.3" text-anchor="middle" fill="#333">1</text>
<text x="326.40" y="286.40" font-family='"Liberation Mono", "DejaVu Sans Mono", monospace' font-size="15.3" text-anchor="middle" fill="#333">2</text>
<text x="397.65" y="286.40" font-family='"Liberation Mono", "DejaVu Sans Mono", monospace' font-size="15.3" text-anchor="middle" fill="#333">3</text>
<text x="468.90" y="286.40" font-family='"Liberation Mono", "DejaVu Sans Mono", monospace' font-size="15.3" text-anchor="middle" fill="#333">4</text>
<text x="540.15" y="286.40" font-family='"Liberation Mono", "DejaVu Sans Mono", monospace' font-size="15.3" text-anchor="middle" fill="#333">5</text>
<text x="132.70 142.70 152.70 162.70" y="45.10" font-family='"Liberation Mono", "DejaVu Sans Mono", monospace' font-size="15.3" text-anchor="middle" fill="#333">1<tspan font-family='"Liberation Sans", "DejaVu Sans", sans-serif' font-size="14.76">0</tspan>.5</text>
<text x="155.00 165.00" y="91.20" font-family='"Liberation Mono", "DejaVu Sans Mono", monospace' font-size="15.3" text-anchor="middle" fill="#333">1<tspan font-family='"Liberation Sans", "DejaVu Sans", sans-serif' font-size="14.76">0</tspan></text>
<text x="144.60 154.60 164.60" y="137.30" font-family='"Liberation Mono", "DejaVu Sans Mono", monospace' font-size="15.3" text-anchor="middle" fill="#333">9.5</text>
<text x="166.50" y="183.40" font-family='"Liberation Mono", "DejaVu Sans Mono", monospace' font-size="15.3" text-anchor="middle" fill="#333">9</text>
<text x="143.90 153.90 163.90" y="229.50" font-family='"Liberation Mono", "DejaVu Sans Mono", monospace' font-size="15.3" text-anchor="middle" fill="#333">8.5</text>
<path d="M258.1,142.20000000000002L261.40000000000003,146.4L258.1,150.6L254.8,146.4Z" fill="#000"/>
<path d="M328.4,107.2V116.9M325.79999999999995,107.2h5.2M325.79999999999995,116.9h5.2" stroke="#222" stroke-width="1.1" fill="none"/>
<path d="M328.4,108.0L331.7,112.2L328.4,116.4L325.09999999999997,112.2Z" fill="#000"/>
<path d="M398.1,78.5V100.5M395.5,78.5h5.2M395.5,100.5h5.2" stroke="#222" stroke-width="1.1" fill="none"/>
<path d="M398.1,85.3L401.40000000000003,89.5L398.1,93.7L394.8,89.5Z" fill="#000"/>
<path d="M469.9,54.2V94.2M467.29999999999995,54.2h5.2M467.29999999999995,94.2h5.2" stroke="#222" stroke-width="1.1" fill="none"/>
<path d="M469.9,70.3L473.2,74.5L469.9,78.7L466.59999999999997,74.5Z" fill="#000"/>
<path d="M407.5,48.2H455.4V58.7M451.09,53.38L455.40,58.90L459.71,53.38" stroke="#ff00ff" stroke-width="1.1" fill="none"/>
<path d="M353.6,69.6H391.0V85.6M387.40,81.51L391.00,85.80L394.60,81.51" stroke="#00d400" stroke-width="1.1" fill="none"/>
<path d="M299.8,94.5H321.7V103.6M318.22,99.94L321.70,103.80L325.18,99.94" stroke="#0000ff" stroke-width="1.1" fill="none"/>
<text x="287.2" y="53.7" font-family='"Liberation Serif", "DejaVu Serif", serif' font-size="14.9" fill="#ff00ff" textLength="119.6" lengthAdjust="spacingAndGlyphs">Power–law potential</text>
<text x="253.0" y="74.7" font-family='"Liberation Serif", "DejaVu Serif", serif' font-size="14.9" fill="#00d400" textLength="99.8" lengthAdjust="spacingAndGlyphs">Cornell potential</text>
<text x="220.9" y="99.0" font-family='"Liberation Serif", "DejaVu Serif", serif' font-size="14.9" fill="#0000ff" textLength="78.2" lengthAdjust="spacingAndGlyphs">Log potential</text>
<path d="M436.3,117.6L408.2,76.3M419.12,85.07L408.20,76.30L412.35,89.67" stroke="#ff0000" stroke-width="1.1" fill="none"/>
<path d="M436.3,150.0L386.9,93.6M398.80,100.97L386.90,93.60L392.64,106.37" stroke="#ff0000" stroke-width="1.1" fill="none"/>
<path d="M437.6,177.6L370.5,103.6M382.53,110.77L370.50,103.60L376.46,116.27" stroke="#ff0000" stroke-width="1.1" fill="none"/>
<text x="443.3" y="133.2" font-family='"Liberation Serif", "DejaVu Serif", serif' font-size="14.8" fill="#2a2a2a" font-style="italic" textLength="8.6" lengthAdjust="spacingAndGlyphs">α</text>
<text x="452.2" y="135.39999999999998" font-family='"Liberation Serif", "DejaVu Serif", serif' font-size="10.4" fill="#2a2a2a" font-style="italic" textLength="4.2" lengthAdjust="spacingAndGlyphs">s</text>
<text x="457.2" y="133.2" font-family='"Liberation Serif", "DejaVu Serif", serif' font-size="14.8" fill="#2a2a2a" textLength="4.6" lengthAdjust="spacingAndGlyphs">(</text>
<text x="462.0" y="133.2" font-family='"Liberation Serif", "DejaVu Serif", serif' font-size="14.8" fill="#2a2a2a" font-style="italic" textLength="12.6" lengthAdjust="spacingAndGlyphs">M</text>
<text x="474.4" y="135.39999999999998" font-family='"Liberation Serif", "DejaVu Serif", serif' font-size="10.4" fill="#2a2a2a" font-style="italic" textLength="6.6" lengthAdjust="spacingAndGlyphs">Z</text>
<text x="482.6" y="133.2" font-family='"Liberation Serif", "DejaVu Serif", serif' font-size="14.8" fill="#2a2a2a" textLength="4.6" lengthAdjust="spacingAndGlyphs">)</text>
<text x="493.6" y="133.2" font-family='"Liberation Serif", "DejaVu Serif", serif' font-size="14.8" fill="#2a2a2a" textLength="10.9" lengthAdjust="spacingAndGlyphs">=</text>
<text x="507.4" y="133.2" font-family='"Liberation Serif", "DejaVu Serif", serif' font-size="14.8" fill="#2a2a2a" textLength="37.4" lengthAdjust="spacingAndGlyphs">0.1201</text>
<text x="443.3" y="158.4" font-family='"Liberation Serif", "DejaVu Serif", serif' font-size="14.8" fill="#2a2a2a" font-style="italic" textLength="8.6" lengthAdjust="spacingAndGlyphs">α</text>
<text x="452.2" y="160.6" font-family='"Liberation Serif", "DejaVu Serif", serif' font-size="10.4" fill="#2a2a2a" font-style="italic" textLength="4.2" lengthAdjust="spacingAndGlyphs">s</text>
<text x="457.2" y="158.4" font-family='"Liberation Serif", "DejaVu Serif", serif' font-size="14.8" fill="#2a2a2a" textLength="4.6" lengthAdjust="spacingAndGlyphs">(</text>
<text x="462.0" y="158.4" font-family='"Liberation Serif", "DejaVu Serif", serif' font-size="14.8" fill="#2a2a2a" font-style="italic" textLength="12.6" lengthAdjust="spacingAndGlyphs">M</text>
<text x="474.4" y="160.6" font-family='"Liberation Serif", "DejaVu Serif", serif' font-size="10.4" fill="#2a2a2a" font-style="italic" textLength="6.6" lengthAdjust="spacingAndGlyphs">Z</text>
<text x="482.6" y="158.4" font-family='"Liberation Serif", "DejaVu Serif", serif' font-size="14.8" fill="#2a2a2a" textLength="4.6" lengthAdjust="spacingAndGlyphs">)</text>
<text x="493.6" y="158.4" font-family='"Liberation Serif", "DejaVu Serif", serif' font-size="14.8" fill="#2a2a2a" textLength="10.9" lengthAdjust="spacingAndGlyphs">=</text>
<text x="507.4" y="158.4" font-family='"Liberation Serif", "DejaVu Serif", serif' font-size="14.8" fill="#2a2a2a" textLength="37.4" lengthAdjust="spacingAndGlyphs">0.1181</text>
<text x="443.3" y="184.5" font-family='"Liberation Serif", "DejaVu Serif", serif' font-size="14.8" fill="#2a2a2a" font-style="italic" textLength="8.6" lengthAdjust="spacingAndGlyphs">α</text>
<text x="452.2" y="186.7" font-family='"Liberation Serif", "DejaVu Serif", serif' font-size="10.4" fill="#2a2a2a" font-style="italic" textLength="4.2" lengthAdjust="spacingAndGlyphs">s</text>
<text x="457.2" y="184.5" font-family='"Liberation Serif", "DejaVu Serif", serif' font-size="14.8" fill="#2a2a2a" textLength="4.6" lengthAdjust="spacingAndGlyphs">(</text>
<text x="462.0" y="184.5" font-family='"Liberation Serif", "DejaVu Serif", serif' font-size="14.8" fill="#2a2a2a" font-style="italic" textLength="12.6" lengthAdjust="spacingAndGlyphs">M</text>
<text x="474.4" y="186.7" font-family='"Liberation Serif", "DejaVu Serif", serif' font-size="10.4" fill="#2a2a2a" font-style="italic" textLength="6.6" lengthAdjust="spacingAndGlyphs">Z</text>
<text x="482.6" y="184.5" font-family='"Liberation Serif", "DejaVu Serif", serif' font-size="14.8" fill="#2a2a2a" textLength="4.6" lengthAdjust="spacingAndGlyphs">)</text>
<text x="493.6" y="184.5" font-family='"Liberation Serif", "DejaVu Serif", serif' font-size="14.8" fill="#2a2a2a" textLength="10.9" lengthAdjust="spacingAndGlyphs">=</text>
<text x="507.4" y="184.5" font-family='"Liberation Serif", "DejaVu Serif", serif' font-size="14.8" fill="#2a2a2a" textLength="37.4" lengthAdjust="spacingAndGlyphs">0.1161</text>
<path d="M259.4,245.3V269.6M256.01,260.07L259.40,269.90L262.79,260.07" stroke="#8c3814" stroke-width="1.1" fill="none"/>
<text x="246.4" y="237.6" font-family='"Liberation Serif", "DejaVu Serif", serif' font-size="14.9" fill="#8c3814" textLength="35.2" lengthAdjust="spacingAndGlyphs">ϒ(1<tspan font-style="italic">S</tspan>)</text>
<path d="M356.4,245.3V269.6M353.01,260.07L356.40,269.90L359.79,260.07" stroke="#8c3814" stroke-width="1.1" fill="none"/>
<text x="343.4" y="237.6" font-family='"Liberation Serif", "DejaVu Serif", serif' font-size="14.9" fill="#8c3814" textLength="35.2" lengthAdjust="spacingAndGlyphs">ϒ(2<tspan font-style="italic">S</tspan>)</text>
<path d="M438.2,245.3V269.6M434.81,260.07L438.20,269.90L441.59,260.07" stroke="#8c3814" stroke-width="1.1" fill="none"/>
<text x="423.6" y="237.6" font-family='"Liberation Serif", "DejaVu Serif", serif' font-size="14.9" fill="#8c3814" textLength="35.2" lengthAdjust="spacingAndGlyphs">ϒ(3<tspan font-style="italic">S</tspan>)</text>
<path d="M509.6,245.3V269.6M506.21,260.07L509.60,269.90L512.99,260.07" stroke="#8c3814" stroke-width="1.1" fill="none"/>
<text x="495.8" y="237.6" font-family='"Liberation Serif", "DejaVu Serif", serif' font-size="14.9" fill="#8c3814" textLength="35.2" lengthAdjust="spacingAndGlyphs">ϒ(4<tspan font-style="italic">S</tspan>)</text>
<path d="M319.3,312V272.2M322.70,282.46L319.30,272.00L315.90,282.46" stroke="#8c3814" stroke-width="1.1" fill="none"/>
<path d="M460.3,312V272.2M463.70,282.46L460.30,272.00L456.90,282.46" stroke="#8c3814" stroke-width="1.1" fill="none"/>
<text x="306" y="327.8" font-family='"Liberation Serif", "DejaVu Serif", serif' font-size="14.9" font-style="italic" fill="#8c3814" textLength="23" lengthAdjust="spacingAndGlyphs">J/ψ</text>
<text x="444.7" y="327.8" font-family='"Liberation Serif", "DejaVu Serif", serif' font-size="14.9" fill="#8c3814" textLength="33.7" lengthAdjust="spacingAndGlyphs"><tspan font-style="italic">ψ</tspan>(2<tspan font-style="italic">S</tspan>)</text>
<text x="183.8" y="319.4" font-family='"Liberation Serif", "DejaVu Serif", serif' font-size="18.3" fill="#222" textLength="19.8" lengthAdjust="spacingAndGlyphs">(a)</text>
<text x="335" y="308.8" font-family='"Liberation Serif", "DejaVu Serif", serif' font-size="20.8" fill="#222" textLength="76.5" lengthAdjust="spacingAndGlyphs"><tspan font-style="italic">r</tspan> [GeV<tspan font-size="14" dy="-7.5">−1</tspan><tspan dy="7.5">]</tspan></text>
<text transform="translate(123.6,168) rotate(-90)" font-family='"Liberation Serif", "DejaVu Serif", serif' font-size="18.5" fill="#222" textLength="54.6" lengthAdjust="spacingAndGlyphs"><tspan font-style="italic">E</tspan> [GeV]</text>
</g>
<g id="plotB">
<clipPath id="clipB"><rect x="655.5" y="33.45" width="384.9000000000001" height="237.85000000000002"/></clipPath>
<path d="M655.5,161.5H1040.4M847.75,33.45V271.3" stroke="#3c3cdc" stroke-width="0.65" fill="none"/>
<g clip-path="url(#clipB)" fill="none">
<path d="M666.00,272.88 L666.45,268.45 L666.90,264.28 L667.35,260.35 L667.79,256.63 L668.24,253.12 L668.69,249.78 L669.14,246.61 L669.59,243.60 L670.04,240.73 L670.49,237.99 L670.94,235.38 L671.38,232.88 L671.83,230.49 L672.28,228.20 L672.73,226.00 L673.18,223.88 L673.63,221.85 L674.08,219.90 L674.53,218.02 L674.97,216.21 L675.42,214.46 L675.87,212.77 L676.32,211.13 L676.77,209.56 L677.22,208.03 L677.67,206.55 L678.12,205.12 L678.56,203.73 L679.01,202.38 L679.46,201.08 L679.91,199.81 L680.36,198.57 L680.81,197.37 L681.26,196.21 L681.71,195.07 L682.15,193.96 L682.60,192.89 L683.05,191.83 L683.50,190.81 L683.95,189.81 L684.40,188.83 L684.85,187.88 L685.30,186.95 L685.74,186.04 L686.19,185.15 L686.64,184.28 L687.09,183.43 L687.54,182.60 L687.99,181.79 L688.44,180.99 L688.89,180.21 L689.33,179.44 L689.79,178.69 L690.24,177.95 L690.70,177.23 L691.16,176.52 L691.61,175.82 L692.07,175.14 L692.52,174.47 L692.98,173.81 L693.43,173.17 L693.89,172.53 L694.34,171.90 L694.80,171.29 L695.25,170.69 L695.71,170.09 L696.17,169.51 L696.62,168.93 L697.08,168.36 L697.53,167.81 L697.99,167.26 L698.44,166.71 L698.90,166.18 L699.35,165.66 L699.81,165.14 L700.26,164.63 L700.72,164.12 L701.18,163.63 L701.63,163.14 L702.09,162.66 L702.54,162.18 L703.00,161.71 L703.45,161.25 L703.91,160.79 L704.36,160.34 L704.82,159.89 L705.27,159.45 L705.73,159.01 L706.19,158.58 L706.64,158.16 L707.10,157.74 L707.55,157.32 L708.01,156.91 L708.46,156.51 L708.92,156.11 L709.37,155.71 L709.83,155.32 L710.29,154.93 L710.74,154.55 L711.20,154.17 L711.65,153.79 L712.11,153.42 L712.56,153.05 L713.02,152.69 L713.47,152.33 L713.93,151.97 L714.38,151.62 L714.84,151.27 L715.30,150.92 L715.75,150.58 L716.21,150.25 L716.66,149.92 L717.12,149.59 L717.57,149.27 L718.03,148.95 L718.48,148.64 L718.94,148.33 L719.39,148.02 L719.85,147.72 L720.36,147.39 L721.44,146.69 L722.53,146.02 L723.62,145.36 L724.70,144.72 L725.79,144.09 L726.88,143.48 L727.96,142.89 L729.05,142.30 L730.14,141.73 L731.21,141.17 L732.28,140.62 L733.35,140.07 L734.42,139.53 L735.49,139.00 L736.56,138.48 L737.63,137.97 L738.70,137.47 L739.77,136.98 L740.84,136.50 L741.91,136.03 L742.98,135.57 L744.05,135.12 L745.12,134.67 L746.19,134.23 L747.26,133.80 L748.33,133.38 L749.41,132.96 L750.48,132.54 L751.55,132.13 L752.62,131.72 L753.69,131.32 L754.76,130.92 L755.83,130.53 L756.90,130.14 L757.97,129.75 L759.04,129.36 L760.11,128.97 L761.18,128.59 L762.25,128.21 L763.32,127.83 L764.39,127.45 L765.46,127.07 L766.53,126.70 L767.61,126.33 L768.68,125.97 L769.75,125.60 L770.82,125.24 L771.89,124.88 L772.96,124.53 L774.03,124.18 L775.10,123.83 L776.17,123.49 L777.24,123.15 L778.31,122.81 L779.38,122.48 L780.45,122.15 L781.52,121.82 L782.59,121.49 L783.66,121.17 L784.73,120.85 L785.80,120.53 L786.88,120.22 L787.95,119.90 L789.02,119.59 L790.09,119.28 L791.16,118.98 L792.23,118.68 L793.30,118.38 L794.37,118.09 L795.44,117.80 L796.51,117.52 L797.58,117.24 L798.65,116.97 L799.72,116.70 L800.79,116.43 L801.86,116.18 L802.93,115.93 L804.00,115.69 L805.07,115.45 L806.15,115.22 L807.22,115.00 L808.29,114.78 L809.36,114.57 L810.43,114.36 L811.50,114.15 L812.57,113.95 L813.64,113.75 L814.71,113.56 L815.78,113.37 L816.85,113.18 L817.92,112.99 L818.99,112.80 L820.06,112.61 L821.13,112.43 L822.20,112.24 L823.27,112.06 L824.35,111.87 L825.42,111.69 L826.49,111.50 L827.56,111.31 L828.63,111.11 L829.70,110.92 L830.77,110.72 L831.84,110.52 L832.91,110.32 L833.98,110.11 L835.05,109.90 L836.12,109.68 L837.19,109.46 L838.26,109.23 L839.33,109.01 L840.40,108.78 L841.47,108.56 L842.54,108.33 L843.62,108.11 L844.69,107.88 L845.76,107.66 L846.83,107.45 L847.90,107.24 L848.97,107.03 L850.04,106.82 L851.11,106.62 L852.18,106.42 L853.25,106.22 L854.32,106.02 L855.39,105.82 L856.46,105.63 L857.53,105.43 L858.60,105.24 L859.67,105.05 L860.74,104.85 L861.82,104.66 L862.89,104.47 L863.96,104.27 L865.03,104.08 L866.10,103.88 L867.17,103.68 L868.24,103.48 L869.31,103.28 L870.38,103.08 L871.45,102.87 L872.52,102.66 L873.59,102.46 L874.66,102.24 L875.73,102.03 L876.80,101.82 L877.87,101.61 L878.94,101.39 L880.01,101.18 L881.09,100.96 L882.16,100.74 L883.23,100.53 L884.30,100.31 L885.37,100.09 L886.44,99.88 L887.51,99.66 L888.58,99.45 L889.65,99.23 L890.72,99.02 L891.79,98.81 L892.86,98.60 L893.93,98.39 L895.00,98.18 L896.07,97.98 L897.14,97.77 L898.21,97.57 L899.28,97.37 L900.36,97.18 L901.43,96.98 L902.50,96.79 L903.57,96.60 L904.64,96.42 L905.71,96.24 L906.78,96.06 L907.85,95.89 L908.92,95.73 L909.99,95.57 L911.06,95.41 L912.13,95.25 L913.20,95.10 L914.27,94.95 L915.34,94.80 L916.41,94.66 L917.48,94.51 L918.56,94.37 L919.63,94.23 L920.70,94.08 L921.77,93.94 L922.84,93.80 L923.91,93.65 L924.98,93.50 L926.05,93.35 L927.12,93.20 L928.19,93.04 L929.26,92.88 L930.33,92.72 L931.40,92.55 L932.47,92.38 L933.54,92.21 L934.61,92.04 L935.68,91.87 L936.75,91.70 L937.83,91.53 L938.90,91.36 L939.97,91.18 L941.04,91.01 L942.11,90.83 L943.18,90.66 L944.25,90.48 L945.32,90.30 L946.39,90.12 L947.46,89.95 L948.53,89.77 L949.60,89.59 L950.67,89.41 L951.74,89.23 L952.81,89.05 L953.88,88.87 L954.95,88.69 L956.03,88.51 L957.10,88.33 L958.17,88.15 L959.24,87.97 L960.31,87.79 L961.38,87.61 L962.45,87.43 L963.52,87.24 L964.59,87.06 L965.66,86.88 L966.73,86.70 L967.80,86.53 L968.87,86.35 L969.94,86.17 L971.01,85.99 L972.08,85.81 L973.15,85.63 L974.22,85.46 L975.30,85.28 L976.37,85.10 L977.44,84.93 L978.51,84.75 L979.58,84.58 L980.65,84.41 L981.72,84.23 L982.79,84.06 L983.86,83.89 L984.93,83.72 L986.00,83.54 L987.07,83.37 L988.14,83.20 L989.21,83.03 L990.28,82.86 L991.35,82.68 L992.42,82.51 L993.49,82.34 L994.57,82.17 L995.64,82.00 L996.71,81.83 L997.78,81.66 L998.85,81.49 L999.92,81.31 L1000.99,81.14 L1002.06,80.97 L1003.13,80.80 L1004.20,80.63 L1005.27,80.46 L1006.34,80.29 L1007.41,80.12 L1008.48,79.95 L1009.55,79.78 L1010.62,79.61 L1011.69,79.44 L1012.77,79.27 L1013.84,79.10 L1014.91,78.94 L1015.98,78.77 L1017.05,78.60 L1018.12,78.43 L1019.19,78.26 L1020.26,78.09 L1021.33,77.92 L1022.40,77.75 L1023.47,77.58 L1024.54,77.42 L1025.61,77.25 L1026.68,77.08 L1027.75,76.91 L1028.82,76.74 L1029.89,76.58 L1030.96,76.41 L1032.04,76.24 L1033.11,76.07 L1034.18,75.90 L1035.25,75.74 L1036.32,75.57 L1037.39,75.40 L1038.46,75.23 L1039.53,75.07 L1040.60,74.90" stroke="#ff2020" stroke-width="1.2"/>
<path d="M667.20,272.87 L667.65,268.44 L668.10,264.27 L668.55,260.34 L668.99,256.62 L669.44,253.10 L669.89,249.77 L670.34,246.60 L670.79,243.58 L671.24,240.71 L671.69,237.97 L672.14,235.36 L672.58,232.86 L673.03,230.46 L673.48,228.17 L673.93,225.97 L674.38,223.85 L674.83,221.82 L675.28,219.86 L675.73,217.98 L676.17,216.16 L676.62,214.41 L677.07,212.72 L677.52,211.09 L677.97,209.51 L678.42,207.98 L678.87,206.50 L679.32,205.06 L679.76,203.67 L680.21,202.32 L680.66,201.01 L681.11,199.74 L681.56,198.50 L682.01,197.30 L682.46,196.13 L682.91,194.99 L683.35,193.88 L683.80,192.80 L684.25,191.74 L684.70,190.71 L685.15,189.71 L685.60,188.73 L686.05,187.77 L686.50,186.84 L686.94,185.93 L687.39,185.03 L687.84,184.16 L688.29,183.31 L688.74,182.47 L689.19,181.65 L689.64,180.85 L690.09,180.06 L690.53,179.29 L690.98,178.53 L691.42,177.79 L691.86,177.07 L692.30,176.35 L692.75,175.65 L693.19,174.97 L693.63,174.29 L694.07,173.63 L694.51,172.97 L694.96,172.33 L695.40,171.70 L695.84,171.08 L696.28,170.47 L696.72,169.87 L697.17,169.28 L697.61,168.70 L698.05,168.13 L698.49,167.57 L698.93,167.01 L699.38,166.46 L699.82,165.92 L700.26,165.39 L700.70,164.87 L701.14,164.35 L701.59,163.84 L702.03,163.34 L702.47,162.85 L702.91,162.36 L703.35,161.87 L703.80,161.40 L704.24,160.93 L704.68,160.46 L705.12,160.00 L705.56,159.55 L706.01,159.10 L706.45,158.66 L706.89,158.22 L707.33,157.79 L707.77,157.37 L708.22,156.94 L708.66,156.53 L709.10,156.11 L709.54,155.71 L709.98,155.30 L710.43,154.90 L710.87,154.51 L711.31,154.12 L711.75,153.73 L712.19,153.35 L712.64,152.97 L713.08,152.59 L713.52,152.22 L713.96,151.85 L714.40,151.49 L714.85,151.12 L715.29,150.77 L715.73,150.41 L716.17,150.06 L716.61,149.72 L717.06,149.37 L717.50,149.03 L717.94,148.70 L718.38,148.36 L718.82,148.03 L719.27,147.71 L719.71,147.38 L720.15,147.06 L720.64,146.71 L721.70,145.97 L722.75,145.24 L723.81,144.53 L724.86,143.83 L725.92,143.14 L726.97,142.47 L728.02,141.81 L729.08,141.16 L730.14,140.52 L731.21,139.90 L732.28,139.28 L733.35,138.67 L734.42,138.07 L735.49,137.47 L736.56,136.89 L737.63,136.31 L738.70,135.74 L739.77,135.18 L740.84,134.63 L741.91,134.09 L742.98,133.55 L744.05,133.02 L745.12,132.50 L746.19,131.98 L747.26,131.47 L748.33,130.97 L749.41,130.47 L750.48,129.98 L751.55,129.49 L752.62,129.01 L753.69,128.53 L754.76,128.06 L755.83,127.59 L756.90,127.13 L757.97,126.67 L759.04,126.22 L760.11,125.77 L761.18,125.32 L762.25,124.88 L763.32,124.44 L764.39,124.01 L765.46,123.58 L766.53,123.15 L767.61,122.73 L768.68,122.31 L769.75,121.89 L770.82,121.48 L771.89,121.07 L772.96,120.67 L774.03,120.27 L775.10,119.87 L776.17,119.47 L777.24,119.08 L778.31,118.69 L779.38,118.31 L780.45,117.92 L781.52,117.54 L782.59,117.17 L783.66,116.79 L784.73,116.42 L785.80,116.05 L786.88,115.69 L787.95,115.32 L789.02,114.96 L790.09,114.60 L791.16,114.25 L792.23,113.90 L793.30,113.55 L794.37,113.20 L795.44,112.86 L796.51,112.52 L797.58,112.18 L798.65,111.84 L799.72,111.51 L800.79,111.18 L801.86,110.86 L802.93,110.54 L804.00,110.22 L805.07,109.90 L806.15,109.59 L807.22,109.28 L808.29,108.97 L809.36,108.67 L810.43,108.37 L811.50,108.07 L812.57,107.78 L813.64,107.48 L814.71,107.19 L815.78,106.90 L816.85,106.62 L817.92,106.33 L818.99,106.05 L820.06,105.77 L821.13,105.49 L822.20,105.21 L823.27,104.93 L824.35,104.66 L825.42,104.38 L826.49,104.11 L827.56,103.84 L828.63,103.57 L829.70,103.30 L830.77,103.03 L831.84,102.77 L832.91,102.50 L833.98,102.23 L835.05,101.97 L836.12,101.71 L837.19,101.45 L838.26,101.19 L839.33,100.93 L840.40,100.68 L841.47,100.43 L842.54,100.18 L843.62,99.92 L844.69,99.67 L845.76,99.42 L846.83,99.17 L847.90,98.92 L848.97,98.66 L850.04,98.41 L851.11,98.16 L852.18,97.90 L853.25,97.65 L854.32,97.40 L855.39,97.15 L856.46,96.89 L857.53,96.64 L858.60,96.39 L859.67,96.14 L860.74,95.89 L861.82,95.64 L862.89,95.39 L863.96,95.14 L865.03,94.90 L866.10,94.65 L867.17,94.40 L868.24,94.15 L869.31,93.91 L870.38,93.66 L871.45,93.42 L872.52,93.18 L873.59,92.93 L874.66,92.69 L875.73,92.45 L876.80,92.21 L877.87,91.96 L878.94,91.72 L880.01,91.48 L881.09,91.24 L882.16,91.00 L883.23,90.76 L884.30,90.53 L885.37,90.29 L886.44,90.05 L887.51,89.81 L888.58,89.57 L889.65,89.34 L890.72,89.10 L891.79,88.86 L892.86,88.63 L893.93,88.39 L895.00,88.15 L896.07,87.92 L897.14,87.68 L898.21,87.45 L899.28,87.21 L900.36,86.98 L901.43,86.74 L902.50,86.51 L903.57,86.27 L904.64,86.04 L905.71,85.80 L906.78,85.57 L907.85,85.34 L908.92,85.10 L909.99,84.87 L911.06,84.64 L912.13,84.41 L913.20,84.18 L914.27,83.95 L915.34,83.72 L916.41,83.49 L917.48,83.26 L918.56,83.03 L919.63,82.80 L920.70,82.57 L921.77,82.34 L922.84,82.10 L923.91,81.87 L924.98,81.63 L926.05,81.39 L927.12,81.16 L928.19,80.92 L929.26,80.67 L930.33,80.43 L931.40,80.18 L932.47,79.94 L933.54,79.69 L934.61,79.45 L935.68,79.20 L936.75,78.95 L937.83,78.71 L938.90,78.46 L939.97,78.21 L941.04,77.96 L942.11,77.71 L943.18,77.47 L944.25,77.22 L945.32,76.97 L946.39,76.72 L947.46,76.47 L948.53,76.22 L949.60,75.97 L950.67,75.72 L951.74,75.47 L952.81,75.22 L953.88,74.96 L954.95,74.71 L956.03,74.46 L957.10,74.21 L958.17,73.96 L959.24,73.71 L960.31,73.45 L961.38,73.20 L962.45,72.95 L963.52,72.70 L964.59,72.45 L965.66,72.19 L966.73,71.94 L967.80,71.69 L968.87,71.44 L969.94,71.18 L971.01,70.93 L972.08,70.68 L973.15,70.43 L974.22,70.17 L975.30,69.92 L976.37,69.67 L977.44,69.42 L978.51,69.16 L979.58,68.91 L980.65,68.66 L981.72,68.41 L982.79,68.16 L983.86,67.91 L984.93,67.66 L986.00,67.41 L987.07,67.16 L988.14,66.91 L989.21,66.67 L990.28,66.42 L991.35,66.17 L992.42,65.92 L993.49,65.68 L994.57,65.43 L995.64,65.18 L996.71,64.93 L997.78,64.69 L998.85,64.44 L999.92,64.19 L1000.99,63.94 L1002.06,63.69 L1003.13,63.44 L1004.20,63.19 L1005.27,62.94 L1006.34,62.69 L1007.41,62.44 L1008.48,62.19 L1009.55,61.93 L1010.62,61.68 L1011.69,61.42 L1012.77,61.16 L1013.84,60.90 L1014.91,60.64 L1015.98,60.38 L1017.05,60.12 L1018.12,59.86 L1019.19,59.59 L1020.26,59.33 L1021.33,59.06 L1022.40,58.79" stroke="#0000ff" stroke-width="1.2"/>
<path d="M666.60,272.87 L667.05,268.44 L667.50,264.27 L667.95,260.34 L668.39,256.62 L668.84,253.11 L669.29,249.77 L669.74,246.60 L670.19,243.59 L670.64,240.72 L671.09,237.98 L671.54,235.37 L671.98,232.87 L672.43,230.47 L672.88,228.18 L673.33,225.98 L673.78,223.86 L674.23,221.83 L674.68,219.88 L675.13,218.00 L675.57,216.18 L676.02,214.43 L676.47,212.74 L676.92,211.11 L677.37,209.53 L677.82,208.00 L678.27,206.52 L678.72,205.08 L679.16,203.69 L679.61,202.35 L680.06,201.04 L680.51,199.76 L680.96,198.53 L681.41,197.33 L681.86,196.16 L682.31,195.02 L682.75,193.91 L683.20,192.83 L683.65,191.78 L684.10,190.75 L684.55,189.75 L685.00,188.77 L685.45,187.82 L685.90,186.88 L686.34,185.97 L686.79,185.08 L687.24,184.21 L687.69,183.36 L688.14,182.52 L688.59,181.70 L689.04,180.90 L689.49,180.12 L689.93,179.35 L690.38,178.59 L690.83,177.86 L691.28,177.13 L691.73,176.42 L692.18,175.72 L692.63,175.03 L693.08,174.36 L693.52,173.70 L693.97,173.05 L694.42,172.41 L694.87,171.78 L695.32,171.16 L695.77,170.56 L696.22,169.96 L696.67,169.37 L697.11,168.79 L697.56,168.22 L698.01,167.66 L698.46,167.11 L698.91,166.56 L699.36,166.03 L699.81,165.50 L700.26,164.98 L700.70,164.46 L701.15,163.95 L701.60,163.46 L702.05,162.96 L702.50,162.48 L702.95,162.00 L703.40,161.52 L703.85,161.05 L704.29,160.59 L704.74,160.14 L705.19,159.69 L705.64,159.24 L706.09,158.80 L706.54,158.37 L706.99,157.94 L707.44,157.51 L707.88,157.09 L708.33,156.68 L708.78,156.27 L709.23,155.87 L709.68,155.46 L710.13,155.07 L710.58,154.68 L711.03,154.29 L711.47,153.90 L711.92,153.52 L712.37,153.15 L712.82,152.78 L713.27,152.41 L713.72,152.04 L714.17,151.68 L714.62,151.32 L715.06,150.97 L715.51,150.62 L715.96,150.27 L716.41,149.93 L716.86,149.59 L717.31,149.25 L717.76,148.92 L718.21,148.59 L718.65,148.27 L719.10,147.95 L719.55,147.63 L720.00,147.31 L720.50,146.97 L721.57,146.24 L722.64,145.52 L723.71,144.83 L724.78,144.14 L725.85,143.47 L726.92,142.82 L727.99,142.18 L729.06,141.55 L730.14,140.93 L731.21,140.32 L732.28,139.72 L733.35,139.13 L734.42,138.55 L735.49,137.98 L736.56,137.42 L737.63,136.87 L738.70,136.33 L739.77,135.80 L740.84,135.28 L741.91,134.77 L742.98,134.27 L744.05,133.78 L745.12,133.29 L746.19,132.81 L747.26,132.34 L748.33,131.87 L749.41,131.41 L750.48,130.96 L751.55,130.51 L752.62,130.07 L753.69,129.63 L754.76,129.19 L755.83,128.76 L756.90,128.33 L757.97,127.91 L759.04,127.49 L760.11,127.07 L761.18,126.65 L762.25,126.24 L763.32,125.83 L764.39,125.43 L765.46,125.02 L766.53,124.62 L767.61,124.23 L768.68,123.84 L769.75,123.45 L770.82,123.06 L771.89,122.68 L772.96,122.30 L774.03,121.92 L775.10,121.55 L776.17,121.18 L777.24,120.81 L778.31,120.45 L779.38,120.09 L780.45,119.74 L781.52,119.38 L782.59,119.03 L783.66,118.68 L784.73,118.34 L785.80,117.99 L786.88,117.65 L787.95,117.31 L789.02,116.98 L790.09,116.64 L791.16,116.31 L792.23,115.99 L793.30,115.66 L794.37,115.35 L795.44,115.03 L796.51,114.72 L797.58,114.41 L798.65,114.10 L799.72,113.80 L800.79,113.51 L801.86,113.22 L802.93,112.93 L804.00,112.65 L805.07,112.37 L806.15,112.09 L807.22,111.82 L808.29,111.56 L809.36,111.29 L810.43,111.03 L811.50,110.78 L812.57,110.52 L813.64,110.27 L814.71,110.03 L815.78,109.78 L816.85,109.54 L817.92,109.30 L818.99,109.06 L820.06,108.83 L821.13,108.60 L822.20,108.36 L823.27,108.14 L824.35,107.91 L825.42,107.68 L826.49,107.46 L827.56,107.23 L828.63,107.01 L829.70,106.79 L830.77,106.57 L831.84,106.35 L832.91,106.13 L833.98,105.91 L835.05,105.69 L836.12,105.48 L837.19,105.27 L838.26,105.06 L839.33,104.86 L840.40,104.66 L841.47,104.46 L842.54,104.26 L843.62,104.06 L844.69,103.86 L845.76,103.65 L846.83,103.45 L847.90,103.24 L848.97,103.03 L850.04,102.82 L851.11,102.61 L852.18,102.40 L853.25,102.19 L854.32,101.98 L855.39,101.77 L856.46,101.56 L857.53,101.35 L858.60,101.14 L859.67,100.93 L860.74,100.72 L861.82,100.51 L862.89,100.29 L863.96,100.08 L865.03,99.86 L866.10,99.65 L867.17,99.43 L868.24,99.21 L869.31,98.99 L870.38,98.77 L871.45,98.55 L872.52,98.33 L873.59,98.10 L874.66,97.87 L875.73,97.65 L876.80,97.42 L877.87,97.19 L878.94,96.96 L880.01,96.73 L881.09,96.49 L882.16,96.26 L883.23,96.03 L884.30,95.80 L885.37,95.57 L886.44,95.33 L887.51,95.10 L888.58,94.87 L889.65,94.64 L890.72,94.41 L891.79,94.18 L892.86,93.95 L893.93,93.72 L895.00,93.49 L896.07,93.27 L897.14,93.05 L898.21,92.82 L899.28,92.60 L900.36,92.38 L901.43,92.17 L902.50,91.95 L903.57,91.74 L904.64,91.53 L905.71,91.32 L906.78,91.12 L907.85,90.91 L908.92,90.72 L909.99,90.52 L911.06,90.32 L912.13,90.13 L913.20,89.94 L914.27,89.75 L915.34,89.56 L916.41,89.38 L917.48,89.19 L918.56,89.01 L919.63,88.82 L920.70,88.63 L921.77,88.45 L922.84,88.26 L923.91,88.07 L924.98,87.89 L926.05,87.70 L927.12,87.51 L928.19,87.31 L929.26,87.12 L930.33,86.92 L931.40,86.72 L932.47,86.53 L933.54,86.33 L934.61,86.13 L935.68,85.93 L936.75,85.73 L937.83,85.53 L938.90,85.34 L939.97,85.14 L941.04,84.94 L942.11,84.74 L943.18,84.54 L944.25,84.34 L945.32,84.14 L946.39,83.94 L947.46,83.74 L948.53,83.54 L949.60,83.34 L950.67,83.14 L951.74,82.94 L952.81,82.74 L953.88,82.54 L954.95,82.34 L956.03,82.14 L957.10,81.93 L958.17,81.73 L959.24,81.53 L960.31,81.33 L961.38,81.12 L962.45,80.92 L963.52,80.71 L964.59,80.51 L965.66,80.30 L966.73,80.10 L967.80,79.89 L968.87,79.69 L969.94,79.48 L971.01,79.27 L972.08,79.07 L973.15,78.86 L974.22,78.65 L975.30,78.44 L976.37,78.23 L977.44,78.02 L978.51,77.81 L979.58,77.60 L980.65,77.38 L981.72,77.17 L982.79,76.96 L983.86,76.74 L984.93,76.53 L986.00,76.31 L987.07,76.10 L988.14,75.88 L989.21,75.67 L990.28,75.45 L991.35,75.23 L992.42,75.02 L993.49,74.80 L994.57,74.58 L995.64,74.36 L996.71,74.14 L997.78,73.92 L998.85,73.70 L999.92,73.49 L1000.99,73.27 L1002.06,73.05 L1003.13,72.83 L1004.20,72.61 L1005.27,72.38 L1006.34,72.16 L1007.41,71.94 L1008.48,71.72 L1009.55,71.50 L1010.62,71.28 L1011.69,71.06 L1012.77,70.84 L1013.84,70.62 L1014.91,70.40 L1015.98,70.18 L1017.05,69.96 L1018.12,69.74 L1019.19,69.52 L1020.26,69.30 L1021.33,69.08 L1022.40,68.86 L1023.47,68.64 L1024.54,68.42 L1025.61,68.20 L1026.68,67.98 L1027.75,67.76 L1028.82,67.54 L1029.89,67.32 L1030.96,67.10 L1032.04,66.88 L1033.11,66.66 L1034.18,66.44 L1035.25,66.22 L1036.32,66.00 L1037.39,65.78 L1038.46,65.56 L1039.53,65.34 L1040.60,65.12" stroke="#00d400" stroke-width="1.2"/>
<path d="M1036.5,55.2L1040.6,54.2" stroke="#0000ff" stroke-width="1.1"/>
</g>
<path d="M834.5,97.0V113.1M833.3,97.0h2.4M833.3,113.1h2.4" stroke="#333" stroke-width="0.8" fill="none"/>
<circle cx="834.5" cy="106.7" r="1.4" fill="#0a5a0a"/>
<path d="M930.6,71.3V101.7M929.4,71.3h2.4M929.4,101.7h2.4" stroke="#333" stroke-width="0.8" fill="none"/>
<circle cx="930.6" cy="86.9" r="1.4" fill="#0a5a0a"/>
<path d="M1026.5,39.1V96.7M1025.3,39.1h2.4M1025.3,96.7h2.4" stroke="#333" stroke-width="0.8" fill="none"/>
<circle cx="1026.5" cy="68.0" r="1.4" fill="#0a5a0a"/>
<g>
<circle cx="673.9" cy="223.1003734268046" r="2.6" fill="#111"/>
<circle cx="677.2" cy="209.89845182114377" r="2.6" fill="#111"/>
<circle cx="680.8" cy="198.736356690948" r="2.6" fill="#111"/>
<circle cx="684.2" cy="190.28957775556106" r="2.6" fill="#111"/>
<circle cx="685.2" cy="188.0980317261261" r="2.6" fill="#111"/>
<circle cx="689" cy="180.71256673647906" r="2.6" fill="#111"/>
<circle cx="694.5" cy="172.0222934547659" r="2.6" fill="#111"/>
<circle cx="696.3" cy="169.56285422794062" r="2.6" fill="#111"/>
<circle cx="700.9" cy="163.930080557525" r="2.6" fill="#111"/>
<circle cx="705" cy="159.5443089095458" r="2.6" fill="#111"/>
<circle cx="708.8" cy="155.89703630759539" r="2.6" fill="#111"/>
<circle cx="713.6" cy="150.83571336782788" r="2.7" fill="#111"/>
<circle cx="715.6" cy="150.07581687950386" r="2.7" fill="#111"/>
<circle cx="721.3" cy="144.97748928923812" r="2.7" fill="#111"/>
<circle cx="723.5" cy="144.3827095690057" r="2.7" fill="#111"/>
<circle cx="725.6" cy="142.42383488939427" r="2.7" fill="#111"/>
<circle cx="733.6" cy="137.64545902736583" r="2.7" fill="#111"/>
<circle cx="735.6" cy="136.69479292056246" r="2.7" fill="#111"/>
<circle cx="737.4" cy="135.36183779992896" r="2.7" fill="#111"/>
<circle cx="742.2" cy="132.4812052165738" r="2.7" fill="#111"/>
<circle cx="744.3" cy="131.24842231759044" r="2.7" fill="#111"/>
<circle cx="746.4" cy="130.04227160609153" r="2.7" fill="#111"/>
<circle cx="748.5" cy="129.85260225277975" r="2.7" fill="#111"/>
<circle cx="750.6" cy="128.44267433181452" r="2.7" fill="#111"/>
<circle cx="752.7" cy="127.0708732965411" r="2.7" fill="#111"/>
<circle cx="754.8" cy="127.0236791854751" r="2.7" fill="#111"/>
<circle cx="756.8" cy="125.31398763268412" r="2.7" fill="#111"/>
<circle cx="758.4" cy="124.7693766402559" r="2.7" fill="#111"/>
<circle cx="762.3" cy="122.88201369361458" r="2.7" fill="#111"/>
<circle cx="764.3" cy="122.444903736069" r="2.7" fill="#111"/>
<circle cx="766" cy="121.65180437009612" r="2.7" fill="#111"/>
<circle cx="769.8" cy="120.07769555642548" r="2.7" fill="#111"/>
<circle cx="771.8" cy="118.81696184078947" r="2.7" fill="#111"/>
<circle cx="773.8" cy="118.02535271237217" r="2.7" fill="#111"/>
<circle cx="775.8" cy="117.17857212459441" r="2.7" fill="#111"/>
<circle cx="777.8" cy="116.47772625687746" r="2.7" fill="#111"/>
<circle cx="779.4" cy="115.60813915485154" r="2.7" fill="#111"/>
<circle cx="788.2" cy="112.25814133239582" r="2.7" fill="#111"/>
<circle cx="790.2" cy="112.54845543619703" r="2.7" fill="#111"/>
<circle cx="792.2" cy="111.80297830243866" r="2.7" fill="#111"/>
<circle cx="794.2" cy="110.06552529594153" r="2.7" fill="#111"/>
<circle cx="796.0" cy="109.19689727466421" r="2.7" fill="#111"/>
<circle cx="810.3" cy="104.38749357110181" r="2.7" fill="#111"/>
<circle cx="828.7" cy="98.88734551366305" r="2.7" fill="#111"/>
<polygon points="730.60,135.64 731.40,138.33 734.21,138.26 731.90,139.86 732.83,142.51 730.60,140.80 728.37,142.51 729.30,139.86 726.99,138.26 729.80,138.33" fill="#111"/>
<path d="M727.6,138.49891494040168L730.7,141.89891494040168L727.6,145.2989149404017L724.5,141.89891494040168Z" fill="none" stroke="#111" stroke-width="0.95"/>
<polygon points="749.20,125.55 750.00,128.24 752.81,128.17 750.50,129.77 751.43,132.42 749.20,130.72 746.97,132.42 747.90,129.77 745.59,128.17 748.40,128.24" fill="#111"/>
<path d="M746.2,128.03794661989016L749.3000000000001,131.43794661989017L746.2,134.83794661989018L743.1,131.43794661989017Z" fill="none" stroke="#111" stroke-width="0.95"/>
<polygon points="783.40,110.87 784.20,113.56 787.01,113.49 784.70,115.09 785.63,117.74 783.40,116.03 781.17,117.74 782.10,115.09 779.79,113.49 782.60,113.56" fill="#111"/>
<path d="M780.4000000000001,113.02905580138369L783.5000000000001,116.4290558013837L780.4000000000001,119.8290558013837L777.3000000000001,116.4290558013837Z" fill="none" stroke="#111" stroke-width="0.95"/>
<polygon points="803.30,103.56 804.10,106.25 806.91,106.18 804.60,107.78 805.53,110.43 803.30,108.72 801.07,110.43 802.00,107.78 799.69,106.18 802.50,106.25" fill="#111"/>
<path d="M800.3000000000001,105.61953352678873L803.4000000000001,109.01953352678873L800.3000000000001,112.41953352678874L797.2,109.01953352678873Z" fill="none" stroke="#111" stroke-width="0.95"/>
<polygon points="812.70,100.30 813.50,102.99 816.31,102.93 814.00,104.52 814.93,107.17 812.70,105.47 810.47,107.17 811.40,104.52 809.09,102.93 811.90,102.99" fill="#111"/>
<path d="M809.7,102.32794092441826L812.8000000000001,105.72794092441826L809.7,109.12794092441827L806.6,105.72794092441826Z" fill="none" stroke="#111" stroke-width="0.95"/>
<polygon points="820.70,97.61 821.50,100.30 824.31,100.23 822.00,101.83 822.93,104.48 820.70,102.78 818.47,104.48 819.40,101.83 817.09,100.23 819.90,100.30" fill="#111"/>
<path d="M817.7,99.60954727019514L820.8000000000001,103.00954727019514L817.7,106.40954727019515L814.6,103.00954727019514Z" fill="none" stroke="#111" stroke-width="0.95"/>
<polygon points="758.20,121.32 759.00,124.01 761.81,123.95 759.50,125.54 760.43,128.20 758.20,126.49 755.97,128.20 756.90,125.54 754.59,123.95 757.40,124.01" fill="#111"/>
<path d="M755.2,123.69410089897964L758.3000000000001,127.09410089897965L755.2,130.49410089897964L752.1,127.09410089897965Z" fill="none" stroke="#111" stroke-width="0.95"/>
<polygon points="773.20,114.90 774.00,117.59 776.81,117.52 774.50,119.12 775.43,121.77 773.20,120.07 770.97,121.77 771.90,119.12 769.59,117.52 772.40,117.59" fill="#111"/>
<path d="M770.2,117.1316653796805L773.3000000000001,120.5316653796805L770.2,123.93166537968051L767.1,120.5316653796805Z" fill="none" stroke="#111" stroke-width="0.95"/>
<polygon points="739.20,130.70 740.00,133.39 742.81,133.32 740.50,134.92 741.43,137.57 739.20,135.87 736.97,137.57 737.90,134.92 735.59,133.32 738.40,133.39" fill="#111"/>
<path d="M736.2,133.35951226950948L739.3000000000001,136.7595122695095L736.2,140.1595122695095L733.1,136.7595122695095Z" fill="none" stroke="#111" stroke-width="0.95"/>
<g clip-path="url(#clipB2)">
<path d="M834.2,94.1L837.3000000000001,97.5L834.2,100.9L831.1,97.5Z" fill="none" stroke="#111" stroke-width="0.95"/>
<path d="M836.6,93.39999999999999L839.7,96.8L836.6,100.2L833.5,96.8Z" fill="none" stroke="#111" stroke-width="0.95"/>
<path d="M839.0,92.69999999999999L842.1,96.1L839.0,99.5L835.9,96.1Z" fill="none" stroke="#111" stroke-width="0.95"/>
<path d="M841.2,92.0L844.3000000000001,95.4L841.2,98.80000000000001L838.1,95.4Z" fill="none" stroke="#111" stroke-width="0.95"/>
<polygon points="846.60,89.70 847.45,92.54 850.40,92.46 847.97,94.14 848.95,96.94 846.60,95.14 844.25,96.94 845.23,94.14 842.80,92.46 845.75,92.54" fill="#111"/>
<path d="M844.8,90.89999999999999L847.9,94.3L844.8,97.7L841.6999999999999,94.3Z" fill="none" stroke="#111" stroke-width="0.95"/>
<path d="M861.6,85.19999999999999L864.7,88.6L861.6,92.0L858.5,88.6Z" fill="none" stroke="#111" stroke-width="0.95"/>
<circle cx="867.4" cy="87.4" r="2.5" fill="#111"/>
<polygon points="875.60,80.70 876.45,83.54 879.40,83.46 876.97,85.14 877.95,87.94 875.60,86.14 873.25,87.94 874.23,85.14 871.80,83.46 874.75,83.54" fill="#111"/>
<path d="M874.6,81.8L877.7,85.2L874.6,88.60000000000001L871.5,85.2Z" fill="none" stroke="#111" stroke-width="0.95"/>
<circle cx="886.4" cy="81.9" r="2.5" fill="#111"/>
<path d="M900.4,75.5L903.5,78.9L900.4,82.30000000000001L897.3,78.9Z" fill="none" stroke="#111" stroke-width="0.95"/>
<path d="M903.3,74.6L906.4,78.0L903.3,81.4L900.1999999999999,78.0Z" fill="none" stroke="#111" stroke-width="0.95"/>
<circle cx="905.7" cy="76.4" r="2.5" fill="#111"/>
<path d="M908,73.0L911.1,76.4L908,79.80000000000001L904.9,76.4Z" fill="none" stroke="#111" stroke-width="0.95"/>
<polygon points="910.60,71.20 911.45,74.04 914.40,73.96 911.97,75.64 912.95,78.44 910.60,76.64 908.25,78.44 909.23,75.64 906.80,73.96 909.75,74.04" fill="#111"/>
<polygon points="915.00,69.60 915.85,72.44 918.80,72.36 916.37,74.04 917.35,76.84 915.00,75.04 912.65,76.84 913.63,74.04 911.20,72.36 914.15,72.44" fill="#111"/>
<path d="M912.6,71.19999999999999L915.7,74.6L912.6,78.0L909.5,74.6Z" fill="none" stroke="#111" stroke-width="0.95"/>
<circle cx="925" cy="70.7" r="2.5" fill="#111"/>
<polygon points="923.50,67.50 924.35,70.34 927.30,70.26 924.87,71.94 925.85,74.74 923.50,72.94 921.15,74.74 922.13,71.94 919.70,70.26 922.65,70.34" fill="#111"/>
<path d="M922.5,68.6L925.6,72L922.5,75.4L919.4,72Z" fill="none" stroke="#111" stroke-width="0.95"/>
<circle cx="944.3" cy="64.8" r="2.5" fill="#111"/>
<polygon points="949.30,60.10 950.15,62.94 953.10,62.86 950.67,64.54 951.65,67.34 949.30,65.54 946.95,67.34 947.93,64.54 945.50,62.86 948.45,62.94" fill="#111"/>
<path d="M947.5,62.6L950.6,66L947.5,69.4L944.4,66Z" fill="none" stroke="#111" stroke-width="0.95"/>
<path d="M965.2,55.9L968.3000000000001,59.3L965.2,62.699999999999996L962.1,59.3Z" fill="none" stroke="#111" stroke-width="0.95"/>
<path d="M968.9,55.6L972.0,59L968.9,62.4L965.8,59Z" fill="none" stroke="#111" stroke-width="0.95"/>
<polygon points="973.90,53.60 974.75,56.44 977.70,56.36 975.27,58.04 976.25,60.84 973.90,59.04 971.55,60.84 972.53,58.04 970.10,56.36 973.05,56.44" fill="#111"/>
<path d="M982,53.1L985.1,56.5L982,59.9L978.9,56.5Z" fill="none" stroke="#111" stroke-width="0.95"/>
<polygon points="985.70,49.90 986.55,52.74 989.50,52.66 987.07,54.34 988.05,57.14 985.70,55.34 983.35,57.14 984.33,54.34 981.90,52.66 984.85,52.74" fill="#111"/>
<polygon points="984.00,51.00 984.85,53.84 987.80,53.76 985.37,55.44 986.35,58.24 984.00,56.44 981.65,58.24 982.63,55.44 980.20,53.76 983.15,53.84" fill="#111"/>
<path d="M1013,43.300000000000004L1016.1,46.7L1013,50.1L1009.9,46.7Z" fill="none" stroke="#111" stroke-width="0.95"/>
<path d="M1016.7,42.6L1019.8000000000001,46L1016.7,49.4L1013.6,46Z" fill="none" stroke="#111" stroke-width="0.95"/>
<polygon points="1020.00,41.40 1020.85,44.24 1023.80,44.16 1021.37,45.84 1022.35,48.64 1020.00,46.84 1017.65,48.64 1018.63,45.84 1016.20,44.16 1019.15,44.24" fill="#111"/>
<polygon points="1022.20,40.60 1023.05,43.44 1026.00,43.36 1023.57,45.04 1024.55,47.84 1022.20,46.04 1019.85,47.84 1020.83,45.04 1018.40,43.36 1021.35,43.44" fill="#111"/>
<polygon points="1024.30,39.00 1025.15,41.84 1028.10,41.76 1025.67,43.44 1026.65,46.24 1024.30,44.44 1021.95,46.24 1022.93,43.44 1020.50,41.76 1023.45,41.84" fill="#111"/>
<path d="M1035.2,37.9L1038.3,41.3L1035.2,44.699999999999996L1032.1000000000001,41.3Z" fill="none" stroke="#111" stroke-width="0.95"/>
<polygon points="1039.10,35.10 1039.95,37.94 1042.90,37.86 1040.47,39.54 1041.45,42.34 1039.10,40.54 1036.75,42.34 1037.73,39.54 1035.30,37.86 1038.25,37.94" fill="#111"/>
</g>
</g>
<rect x="655.5" y="33.45" width="384.9000000000001" height="237.85000000000002" fill="none" stroke="#444" stroke-width="0.9"/>
<path d="M664.44,271.3v-1.5M664.44,33.45v1.5M674.08,271.3v-1.5M674.08,33.45v1.5M683.73,271.3v-1.5M683.73,33.45v1.5M693.37,271.3v-1.5M693.37,33.45v1.5M703.01,271.3v-2.6M703.01,33.45v2.6M712.65,271.3v-1.5M712.65,33.45v1.5M722.30,271.3v-1.5M722.30,33.45v1.5M731.94,271.3v-1.5M731.94,33.45v1.5M741.58,271.3v-1.5M741.58,33.45v1.5M751.22,271.3v-2.6M751.22,33.45v2.6M760.87,271.3v-1.5M760.87,33.45v1.5M770.51,271.3v-1.5M770.51,33.45v1.5M780.15,271.3v-1.5M780.15,33.45v1.5M789.79,271.3v-1.5M789.79,33.45v1.5M799.44,271.3v-2.6M799.44,33.45v2.6M809.08,271.3v-1.5M809.08,33.45v1.5M818.72,271.3v-1.5M818.72,33.45v1.5M828.37,271.3v-1.5M828.37,33.45v1.5M838.01,271.3v-1.5M838.01,33.45v1.5M847.65,271.3v-2.6M847.65,33.45v2.6M857.29,271.3v-1.5M857.29,33.45v1.5M866.93,271.3v-1.5M866.93,33.45v1.5M876.58,271.3v-1.5M876.58,33.45v1.5M886.22,271.3v-1.5M886.22,33.45v1.5M895.86,271.3v-2.6M895.86,33.45v2.6M905.50,271.3v-1.5M905.50,33.45v1.5M915.15,271.3v-1.5M915.15,33.45v1.5M924.79,271.3v-1.5M924.79,33.45v1.5M934.43,271.3v-1.5M934.43,33.45v1.5M944.07,271.3v-2.6M944.07,33.45v2.6M953.72,271.3v-1.5M953.72,33.45v1.5M963.36,271.3v-1.5M963.36,33.45v1.5M973.00,271.3v-1.5M973.00,33.45v1.5M982.64,271.3v-1.5M982.64,33.45v1.5M992.29,271.3v-2.6M992.29,33.45v2.6M1001.93,271.3v-1.5M1001.93,33.45v1.5M1011.57,271.3v-1.5M1011.57,33.45v1.5M1021.21,271.3v-1.5M1021.21,33.45v1.5M1030.86,271.3v-1.5M1030.86,33.45v1.5M655.5,263.96h1.5M1040.4,263.96h-1.5M655.5,256.62h1.5M1040.4,256.62h-1.5M655.5,249.28h1.5M1040.4,249.28h-1.5M655.5,241.94h1.5M1040.4,241.94h-1.5M655.5,234.60h2.6M1040.4,234.60h-2.6M655.5,227.26h1.5M1040.4,227.26h-1.5M655.5,219.92h1.5M1040.4,219.92h-1.5M655.5,212.58h1.5M1040.4,212.58h-1.5M655.5,205.24h1.5M1040.4,205.24h-1.5M655.5,197.90h2.6M1040.4,197.90h-2.6M655.5,190.56h1.5M1040.4,190.56h-1.5M655.5,183.22h1.5M1040.4,183.22h-1.5M655.5,175.88h1.5M1040.4,175.88h-1.5M655.5,168.54h1.5M1040.4,168.54h-1.5M655.5,161.20h2.6M1040.4,161.20h-2.6M655.5,153.86h1.5M1040.4,153.86h-1.5M655.5,146.52h1.5M1040.4,146.52h-1.5M655.5,139.18h1.5M1040.4,139.18h-1.5M655.5,131.84h1.5M1040.4,131.84h-1.5M655.5,124.50h2.6M1040.4,124.50h-2.6M655.5,117.16h1.5M1040.4,117.16h-1.5M655.5,109.82h1.5M1040.4,109.82h-1.5M655.5,102.48h1.5M1040.4,102.48h-1.5M655.5,95.14h1.5M1040.4,95.14h-1.5M655.5,87.80h2.6M1040.4,87.80h-2.6M655.5,80.46h1.5M1040.4,80.46h-1.5M655.5,73.12h1.5M1040.4,73.12h-1.5M655.5,65.78h1.5M1040.4,65.78h-1.5M655.5,58.44h1.5M1040.4,58.44h-1.5M655.5,51.10h2.6M1040.4,51.10h-2.6M655.5,43.76h1.5M1040.4,43.76h-1.5M655.5,36.42h1.5M1040.4,36.42h-1.5" stroke="#444" stroke-width="0.7" fill="none"/>
<text x="693.17 702.92 712.67 722.42" y="290.90" font-family='"Liberation Mono", "DejaVu Sans Mono", monospace' font-size="15.3" text-anchor="middle" fill="#333"><tspan font-family='"Liberation Sans", "DejaVu Sans", sans-serif' font-size="14.76">0</tspan>.25</text>
<text x="749.25 759.00 768.75" y="290.90" font-family='"Liberation Mono", "DejaVu Sans Mono", monospace' font-size="15.3" text-anchor="middle" fill="#333"><tspan font-family='"Liberation Sans", "DejaVu Sans", sans-serif' font-size="14.76">0</tspan>.5</text>
<text x="788.98 798.73 808.48 818.23" y="290.90" font-family='"Liberation Mono", "DejaVu Sans Mono", monospace' font-size="15.3" text-anchor="middle" fill="#333"><tspan font-family='"Liberation Sans", "DejaVu Sans", sans-serif' font-size="14.76">0</tspan>.75</text>
<text x="849.00" y="290.90" font-family='"Liberation Mono", "DejaVu Sans Mono", monospace' font-size="15.3" text-anchor="middle" fill="#333">1</text>
<text x="884.08 893.83 903.58 913.33" y="290.90" font-family='"Liberation Mono", "DejaVu Sans Mono", monospace' font-size="15.3" text-anchor="middle" fill="#333">1.25</text>
<text x="936.05 945.80 955.55" y="290.90" font-family='"Liberation Mono", "DejaVu Sans Mono", monospace' font-size="15.3" text-anchor="middle" fill="#333">1.5</text>
<text x="979.77 989.52 999.27 1009.02" y="290.90" font-family='"Liberation Mono", "DejaVu Sans Mono", monospace' font-size="15.3" text-anchor="middle" fill="#333">1.75</text>
<text x="1039.90" y="290.90" font-family='"Liberation Mono", "DejaVu Sans Mono", monospace' font-size="15.3" text-anchor="middle" fill="#333">2</text>
<text x="646.60" y="59.90" font-family='"Liberation Mono", "DejaVu Sans Mono", monospace' font-size="15.3" text-anchor="middle" fill="#333">3</text>
<text x="646.60" y="96.10" font-family='"Liberation Mono", "DejaVu Sans Mono", monospace' font-size="15.3" text-anchor="middle" fill="#333">2</text>
<text x="646.60" y="131.00" font-family='"Liberation Mono", "DejaVu Sans Mono", monospace' font-size="15.3" text-anchor="middle" fill="#333">1</text>
<text x="646.60" y="167.50" font-family='"Liberation Mono", "DejaVu Sans Mono", monospace' font-size="15.3" text-anchor="middle" fill="#333"><tspan font-family='"Liberation Sans", "DejaVu Sans", sans-serif' font-size="14.76">0</tspan></text>
<text x="637.20 646.60" y="203.50" font-family='"Liberation Mono", "DejaVu Sans Mono", monospace' font-size="15.3" text-anchor="middle" fill="#333">−1</text>
<text x="637.20 646.60" y="239.30" font-family='"Liberation Mono", "DejaVu Sans Mono", monospace' font-size="15.3" text-anchor="middle" fill="#333">−2</text>
<text x="689.4" y="71.4" font-family='"Liberation Serif", "DejaVu Serif", serif' font-size="13.7" fill="#2a2a2a" font-style="italic" textLength="12.3" lengthAdjust="spacingAndGlyphs">m</text>
<path d="M689.6,63.3h12.3" stroke="#2a2a2a" stroke-width="0.7"/>
<text x="705.7" y="71.4" font-family='"Liberation Serif", "DejaVu Serif", serif' font-size="14.8" fill="#2a2a2a" textLength="10.7" lengthAdjust="spacingAndGlyphs">=</text>
<text x="720.3" y="71.4" font-family='"Liberation Serif", "DejaVu Serif", serif' font-size="14.8" fill="#2a2a2a" textLength="5.9" lengthAdjust="spacingAndGlyphs">2</text>
<text x="731.7" y="71.4" font-family='"Liberation Serif", "DejaVu Serif", serif' font-size="14.8" fill="#2a2a2a" textLength="25.4" lengthAdjust="spacingAndGlyphs">GeV</text>
<text x="690" y="90.9" font-family='"Liberation Serif", "DejaVu Serif", serif' font-size="13.7" fill="#2a2a2a" font-style="italic" textLength="7.4" lengthAdjust="spacingAndGlyphs">n</text>
<text x="697.9" y="93.2" font-family='"Liberation Serif", "DejaVu Serif", serif' font-size="10" fill="#2a2a2a" font-style="italic" textLength="3.4" lengthAdjust="spacingAndGlyphs">l</text>
<text x="706.4" y="90.9" font-family='"Liberation Serif", "DejaVu Serif", serif' font-size="14.8" fill="#2a2a2a" textLength="10.2" lengthAdjust="spacingAndGlyphs">=</text>
<text x="720.6" y="90.9" font-family='"Liberation Serif", "DejaVu Serif", serif' font-size="14.8" fill="#2a2a2a" textLength="6.3" lengthAdjust="spacingAndGlyphs">0</text>
<path d="M943.2,112.6L914.8,84.3M924.54,88.22L914.80,84.30L918.75,94.03" stroke="#222" stroke-width="0.75" fill="none"/>
<path d="M939,130L901,92.4M910.76,96.28L901.00,92.40L904.98,102.11" stroke="#222" stroke-width="0.75" fill="none"/>
<path d="M938.2,149L891.7,100M901.33,104.19L891.70,100.00L895.38,109.84" stroke="#222" stroke-width="0.75" fill="none"/>
<text x="945.6" y="117.3" font-family='"Liberation Serif", "DejaVu Serif", serif' font-size="14.8" fill="#2a2a2a" textLength="30.7" lengthAdjust="spacingAndGlyphs">0.554</text>
<text x="945.6" y="134.0" font-family='"Liberation Serif", "DejaVu Serif", serif' font-size="14.8" fill="#2a2a2a" textLength="30.7" lengthAdjust="spacingAndGlyphs">0.602</text>
<text x="982.9" y="134.0" font-family='"Liberation Serif", "DejaVu Serif", serif' font-size="14.8" fill="#2a2a2a" textLength="10.0" lengthAdjust="spacingAndGlyphs">=</text>
<text x="997.3" y="134.0" font-family='"Liberation Serif", "DejaVu Serif", serif' font-size="14.8" fill="#2a2a2a" textLength="9.1" lengthAdjust="spacingAndGlyphs">Λ</text>
<text x="1006.9" y="137.1" font-family='"Liberation Serif", "DejaVu Serif", serif' font-size="9.6" fill="#2a2a2a" textLength="14.4" lengthAdjust="spacingAndGlyphs">MS</text>
<path d="M1006.9,128.5h14.4" stroke="#2a2a2a" stroke-width="0.6"/>
<text x="1024.5" y="134.0" font-family='"Liberation Serif", "DejaVu Serif", serif' font-size="14.8" fill="#2a2a2a" font-style="italic" textLength="6.1" lengthAdjust="spacingAndGlyphs">r</text>
<text x="1030.8" y="135.6" font-family='"Liberation Serif", "DejaVu Serif", serif' font-size="10" fill="#2a2a2a" textLength="4.6" lengthAdjust="spacingAndGlyphs">0</text>
<text x="945.6" y="151.6" font-family='"Liberation Serif", "DejaVu Serif", serif' font-size="14.8" fill="#2a2a2a" textLength="30.7" lengthAdjust="spacingAndGlyphs">0.650</text>
<polygon points="917.40,208.20 918.12,210.61 920.63,210.55 918.56,211.98 919.40,214.35 917.40,212.82 915.40,214.35 916.24,211.98 914.17,210.55 916.68,210.61" fill="#222"/>
<text x="930.1" y="215.2" font-family='"Liberation Serif", "DejaVu Serif", serif' font-size="14.8" fill="#222" textLength="45.7" lengthAdjust="spacingAndGlyphs">JLQCD</text>
<path d="M918.2,227.8L921.4,231L918.2,234.2L915,231Z" fill="none" stroke="#222" stroke-width="0.9"/>
<text x="931.6" y="234.9" font-family='"Liberation Serif", "DejaVu Serif", serif' font-size="14.8" fill="#222" textLength="93.8" lengthAdjust="spacingAndGlyphs">Takahashi et al.</text>
<circle cx="917" cy="251.2" r="2.8" fill="#222"/>
<text x="930" y="254.3" font-family='"Liberation Serif", "DejaVu Serif", serif' font-size="14.8" fill="#222" textLength="90.6" lengthAdjust="spacingAndGlyphs">Necco, Sommer</text>
<text x="628.6" y="319.3" font-family='"Liberation Serif", "DejaVu Serif", serif' font-size="18.3" fill="#222" textLength="20.6" lengthAdjust="spacingAndGlyphs">(b)</text>
<text x="848.8" y="315.4" font-family='"Liberation Serif", "DejaVu Serif", serif' font-size="20.8" fill="#222" textLength="34.5" lengthAdjust="spacingAndGlyphs"><tspan font-style="italic">r</tspan>/<tspan font-style="italic">r</tspan><tspan font-size="14" dy="3">0</tspan></text>
<text transform="translate(620.0,180.9) rotate(-90)" font-family='"Liberation Serif", "DejaVu Serif", serif' font-size="14.2" fill="#2a2a2a" textLength="5.0" lengthAdjust="spacingAndGlyphs" font-style="italic">r</text>
<text transform="translate(622.2,174.9) rotate(-90)" font-family='"Liberation Serif", "DejaVu Serif", serif' font-size="10.2" fill="#2a2a2a" textLength="4.3" lengthAdjust="spacingAndGlyphs">0</text>
<text transform="translate(620.0,166.6) rotate(-90)" font-family='"Liberation Serif", "DejaVu Serif", serif' font-size="14.2" fill="#2a2a2a" textLength="3.0" lengthAdjust="spacingAndGlyphs">·</text>
<text transform="translate(620.0,160.6) rotate(-90)" font-family='"Liberation Serif", "DejaVu Serif", serif' font-size="14.2" fill="#2a2a2a" textLength="9.8" lengthAdjust="spacingAndGlyphs" font-style="italic">V</text>
<text transform="translate(620.0,145.6) rotate(-90)" font-family='"Liberation Serif", "DejaVu Serif", serif' font-size="14.2" fill="#2a2a2a" textLength="8.4" lengthAdjust="spacingAndGlyphs">+</text>
<text transform="translate(620.0,131.9) rotate(-90)" font-family='"Liberation Serif", "DejaVu Serif", serif' font-size="14.2" fill="#2a2a2a" textLength="34.2" lengthAdjust="spacingAndGlyphs">const.</text>
</g>
</svg></body></html>
